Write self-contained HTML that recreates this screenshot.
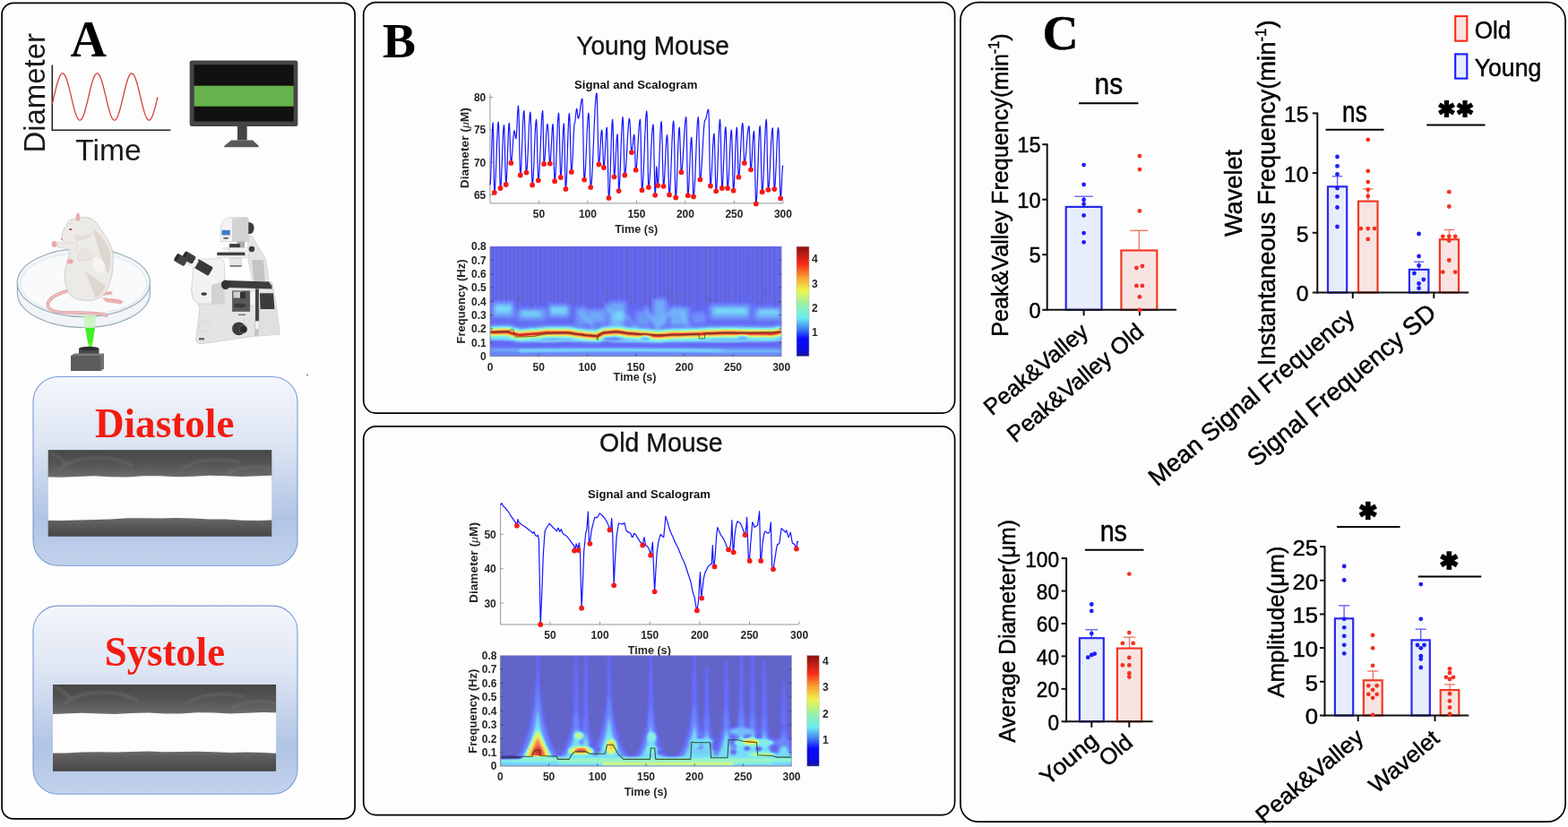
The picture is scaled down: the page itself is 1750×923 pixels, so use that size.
<!DOCTYPE html>
<html><head><meta charset="utf-8"><title>Figure</title>
<style>html,body{margin:0;padding:0;background:#fdfdfd;overflow:hidden}svg{display:block}.pc text{stroke:#000;stroke-width:0.45px}</style>
</head><body>
<svg width="1750" height="923" viewBox="0 0 1750 923" font-family="'Liberation Sans', Arial, Helvetica, sans-serif">
<defs>
<linearGradient id="boxgrad" x1="0" y1="0" x2="0" y2="1">
  <stop offset="0" stop-color="#f4f6fb"/>
  <stop offset="0.35" stop-color="#dde5f3"/>
  <stop offset="0.75" stop-color="#b0c4e4"/>
  <stop offset="1" stop-color="#c3d2ec"/>
</linearGradient>
<linearGradient id="vtop" x1="0" y1="0" x2="0" y2="1">
  <stop offset="0" stop-color="#474747"/>
  <stop offset="0.5" stop-color="#555"/>
  <stop offset="0.85" stop-color="#666"/>
  <stop offset="1" stop-color="#767676"/>
</linearGradient>
<linearGradient id="vbot" x1="0" y1="0" x2="0" y2="1">
  <stop offset="0" stop-color="#707070"/>
  <stop offset="0.3" stop-color="#5e5e5e"/>
  <stop offset="1" stop-color="#474747"/>
</linearGradient>
<filter id="wisp" filterUnits="userSpaceOnUse" x="0" y="400" width="400" height="500"><feGaussianBlur stdDeviation="1.4"/></filter>
<linearGradient id="beam" x1="0" y1="0" x2="0" y2="1">
  <stop offset="0" stop-color="#3cf024"/>
  <stop offset="0.7" stop-color="#44f020"/>
  <stop offset="1" stop-color="#8cf040"/>
</linearGradient>
<filter id="soft" filterUnits="userSpaceOnUse" x="0" y="400" width="400" height="500"><feGaussianBlur stdDeviation="0.7"/></filter>

<linearGradient id="jetg" x1="0" y1="1" x2="0" y2="0">
  <stop offset="0" stop-color="#16168a"/>
  <stop offset="0.05" stop-color="#0a0ae0"/>
  <stop offset="0.16" stop-color="#0a0aff"/>
  <stop offset="0.25" stop-color="#4080f5"/>
  <stop offset="0.35" stop-color="#68ecf2"/>
  <stop offset="0.46" stop-color="#90f0b0"/>
  <stop offset="0.6" stop-color="#eef54a"/>
  <stop offset="0.72" stop-color="#f8a030"/>
  <stop offset="0.84" stop-color="#f82a18"/>
  <stop offset="1" stop-color="#8a1010"/>
</linearGradient>
<filter id="blur1" x="-10%" y="-10%" width="120%" height="120%"><feGaussianBlur stdDeviation="0.8"/></filter>
<filter id="blur2" x="-10%" y="-30%" width="120%" height="160%"><feGaussianBlur stdDeviation="1.8"/></filter>
<filter id="blur3" x="-10%" y="-30%" width="120%" height="160%"><feGaussianBlur stdDeviation="2.5"/></filter>
<filter id="jetmap" x="0" y="0" width="1" height="1" color-interpolation-filters="sRGB"><feComponentTransfer><feFuncR type="table" tableValues="0.078 0.157 0.235 0.314 0.392 0.392 0.392 0.402 0.412 0.422 0.431 0.441 0.451 0.461 0.471 0.500 0.529 0.559 0.588 0.672 0.755 0.838 0.922 0.931 0.941 0.951 0.961 0.956 0.951 0.946 0.941 0.922 0.902 0.882 0.863 0.817 0.771 0.725 0.680 0.634 0.588"/><feFuncG type="table" tableValues="0.078 0.157 0.235 0.314 0.392 0.402 0.412 0.456 0.500 0.544 0.588 0.667 0.745 0.824 0.902 0.917 0.931 0.946 0.961 0.961 0.961 0.961 0.961 0.917 0.873 0.828 0.784 0.706 0.627 0.549 0.471 0.402 0.333 0.265 0.196 0.176 0.157 0.137 0.118 0.098 0.078"/><feFuncB type="table" tableValues="0.510 0.578 0.647 0.716 0.784 0.873 0.961 0.966 0.971 0.975 0.980 0.980 0.980 0.980 0.980 0.931 0.882 0.833 0.784 0.686 0.588 0.490 0.392 0.373 0.353 0.333 0.314 0.324 0.333 0.343 0.353 0.304 0.255 0.206 0.157 0.144 0.131 0.118 0.105 0.092 0.078"/></feComponentTransfer></filter>
<filter id="sb06" filterUnits="userSpaceOnUse" x="400" y="250" width="700" height="650" color-interpolation-filters="sRGB"><feGaussianBlur stdDeviation="0.6"/></filter>
<filter id="sb1" filterUnits="userSpaceOnUse" x="400" y="250" width="700" height="650" color-interpolation-filters="sRGB"><feGaussianBlur stdDeviation="1"/></filter>
<filter id="sb15" filterUnits="userSpaceOnUse" x="400" y="250" width="700" height="650" color-interpolation-filters="sRGB"><feGaussianBlur stdDeviation="1.5"/></filter>
<filter id="sb2" filterUnits="userSpaceOnUse" x="400" y="250" width="700" height="650" color-interpolation-filters="sRGB"><feGaussianBlur stdDeviation="2.2"/></filter>
<filter id="sb3" filterUnits="userSpaceOnUse" x="400" y="250" width="700" height="650" color-interpolation-filters="sRGB"><feGaussianBlur stdDeviation="3"/></filter>
</defs>
<rect x="0" y="0" width="1750" height="923" fill="#fdfdfd"/>
<rect x="2.1" y="3.4" width="394" height="910.5" rx="13" fill="none" stroke="#000" stroke-width="1.7"/>
<text x="78.5" y="62.7" font-size="56" font-weight="bold" font-family="'Liberation Serif', 'Times New Roman', serif">A</text>
<text transform="translate(50.2,103.8) rotate(-90)" x="0" y="0" font-size="33" text-anchor="middle" fill="#1a1a1a" textLength="133.5" lengthAdjust="spacingAndGlyphs">Diameter</text>
<text x="84.2" y="179.3" font-size="32.5" fill="#1a1a1a" textLength="73.5" lengthAdjust="spacingAndGlyphs">Time</text>
<path d="M58.3,72.5 L58.3,145.2 L190.3,145.2" fill="none" stroke="#222" stroke-width="1.6" />
<path d="M58.3,116 L59,113.1 L59.7,110.1 L60.4,107.1 L61.1,104.2 L61.8,101.3 L62.5,98.4 L63.2,95.7 L63.9,93.2 L64.6,90.8 L65.3,88.7 L66,86.8 L66.7,85.2 L67.4,83.9 L68.1,82.9 L68.8,82.2 L69.5,81.8 L70.2,81.8 L70.9,82.2 L71.6,82.9 L72.3,83.9 L73,85.2 L73.7,86.8 L74.4,88.7 L75.1,90.8 L75.8,93.2 L76.5,95.7 L77.2,98.4 L77.9,101.3 L78.6,104.2 L79.3,107.1 L80,110.1 L80.7,113.1 L81.4,116 L82.1,118.8 L82.8,121.4 L83.5,123.9 L84.2,126.1 L84.9,128.2 L85.6,129.9 L86.3,131.4 L87,132.6 L87.7,133.5 L88.4,134 L89.1,134.2 L89.8,134.1 L90.5,133.6 L91.2,132.8 L91.9,131.6 L92.6,130.2 L93.3,128.4 L94,126.5 L94.7,124.2 L95.4,121.8 L96.1,119.1 L96.8,116.4 L97.5,113.5 L98.2,110.6 L98.9,107.6 L99.6,104.6 L100.3,101.7 L101,98.8 L101.7,96.1 L102.4,93.5 L103.1,91.1 L103.8,89 L104.5,87 L105.2,85.4 L105.9,84 L106.6,83 L107.3,82.3 L108,81.9 L108.7,81.8 L109.4,82.1 L110.1,82.7 L110.8,83.7 L111.5,85 L112.2,86.5 L112.9,88.4 L113.6,90.5 L114.3,92.8 L115,95.3 L115.7,98 L116.4,100.8 L117.1,103.8 L117.8,106.7 L118.5,109.7 L119.2,112.7 L119.9,115.6 L120.6,118.4 L121.3,121 L122,123.5 L122.7,125.8 L123.4,127.9 L124.1,129.7 L124.8,131.2 L125.5,132.5 L126.2,133.4 L126.9,133.9 L127.6,134.2 L128.3,134.1 L129,133.7 L129.7,132.9 L130.4,131.8 L131.1,130.4 L131.8,128.7 L132.5,126.8 L133.2,124.5 L133.9,122.1 L134.6,119.5 L135.3,116.8 L136,113.9 L136.7,111 L137.4,108 L138.1,105 L138.8,102.1 L139.5,99.2 L140.2,96.5 L140.9,93.9 L141.6,91.5 L142.3,89.2 L143,87.3 L143.7,85.6 L144.4,84.2 L145.1,83.1 L145.8,82.3 L146.5,81.9 L147.2,81.8 L147.9,82.1 L148.6,82.6 L149.3,83.5 L150,84.8 L150.7,86.3 L151.4,88.1 L152.1,90.2 L152.8,92.5 L153.5,95 L154.2,97.6 L154.9,100.4 L155.6,103.3 L156.3,106.3 L157,109.3 L157.7,112.2 L158.4,115.2 L159.1,118 L159.8,120.7 L160.5,123.2 L161.2,125.5 L161.9,127.6 L162.6,129.5 L163.3,131 L164,132.3 L164.7,133.3 L165.4,133.9 L166.1,134.2 L166.8,134.1 L167.5,133.7 L168.2,133 L168.9,132 L169.6,130.6 L170.3,129 L171,127 L171.7,124.9 L172.4,122.5 L173.1,119.9 L173.8,117.2 L174.5,114.3 L175.2,111.4 L175.9,108.4" fill="none" stroke="#d6403e" stroke-width="1.3" />
<rect x="211.7" y="67.4" width="120.7" height="73.7" rx="2.5" fill="#454545"/>
<rect x="216.6" y="72.2" width="111.1" height="63.4" rx="1" fill="#111"/>
<rect x="216.6" y="95.7" width="111.1" height="23" fill="#66b34d"/>
<rect x="265" y="141" width="10.7" height="15.5" fill="#444"/>
<path d="M258,156.4 L282,156.4 L289,163 Q289,164.3 287.5,164.3 L251,164.3 Q249.4,164.3 250.3,163 Z" fill="#5a5a5a"/>
<path d="M19.4,315.4 L19.4,327 A74,38.5 0 0 0 167.4,327 L167.4,315.4 Z" fill="#f1f5f8" stroke="#98adb8" stroke-width="1.2"/>
<ellipse cx="93.4" cy="315.4" rx="74" ry="38.1" fill="#f3f7f9" stroke="#9fb3be" stroke-width="1.3"/>
<ellipse cx="93.4" cy="316.5" rx="70.5" ry="34.5" fill="#f8fafb" stroke="#dbe5ea" stroke-width="1"/>
<path d="M74,325 C64,328 56,332 53.5,338 C52,344 58,348 70,348.6 C84,349.2 100,348.8 110,350 C114,350.5 117,351.4 119,352" fill="none" stroke="#d99a9a" stroke-width="3.4" stroke-linecap="round"/>
<path d="M74,325 C64,328 56,332 53.5,338 C52,344 58,348 70,348.6 C84,349.2 100,348.8 110,350 C114,350.5 117,351.4 119,352" fill="none" stroke="#efbcbc" stroke-width="2" stroke-linecap="round"/>
<path d="M112,326.5 L124,325 L126,328.5 L114,330 Z" fill="#eab0b0"/>
<path d="M114,332 L132,334 L137.7,336 L135,339.5 L118,337 Z" fill="#eab0b0"/>
<path d="M68.6,267.2 C69,260 72,252 79,245.5 C85,242.5 95,241.5 102,244 C107,247 110,252 114,258 C120,266 124.5,274 125.8,282 C127,295 125.5,307 122,318 C119,327 113,332.5 104.6,335 C97,336 87,335.5 80,331 C74,325 72,315 72.5,305 C73,297 75,291 77.5,285 C77,280 76,275 74,271.5 C72,270 70,269.5 68.6,267.2 Z" fill="#eceae7" stroke="#cdc5bb" stroke-width="0.8"/>
<path d="M104,255 C112,262 120,270 123,282 C124,292 123,300 121,306 C117,300 114,292 112,284 C110,276 106,266 104,255 Z" fill="#dcd6ce"/>
<path d="M95,303 C103,308 112,316 118,318 C116,325 112,330 106,333 C104,325 100,315 95,303 Z" fill="#ddd7cf"/>
<path d="M104,288 C110,286 116,290 117.5,298 C116,304 112,306 107,304 C104,300 103,294 104,288 Z" fill="#f6f5f3"/>
<path d="M84,262 C92,264 100,262 106,258 C100,266 92,270 84,268 Z" fill="#e2ddd6"/>
<path d="M86,271 C80,272 72,271 64,270 L62.5,275 C70,277 79,279 86,279 Z" fill="#eceae7" stroke="#d2cac0" stroke-width="0.5"/>
<path d="M93,276 C99,279 104,283 103,288 C99,290 94,291 88,291 C86,286 88,280 93,276 Z" fill="#e8e5e1" stroke="#d2cac0" stroke-width="0.5"/>
<ellipse cx="60.5" cy="272.5" rx="2.8" ry="3.4" fill="#e9a9a9"/>
<ellipse cx="78.2" cy="291.8" rx="3.4" ry="2.8" fill="#e9a9a9"/>
<path d="M84.7,246 C84,241 85.5,237.5 87,237.4 C89,237.5 89.5,242 88.9,246.5 Z" fill="#e6b0b0"/>
<path d="M75.2,249.5 C75,246.5 76.5,245 78,245.2 C79.3,245.6 79.5,248 79.3,250 Z" fill="#f0efed" stroke="#d0c8c0" stroke-width="0.4"/>
<ellipse cx="78.7" cy="255.9" rx="1.5" ry="1" fill="#b01c1c"/>
<circle cx="69" cy="267" r="1.2" fill="#e49a9a"/>
<path d="M93.2,352 L107.2,352 L106.2,366 L94.2,366 Z" fill="#c4f4bc" opacity="0.85"/>
<path d="M95,366 L106,366 L102.6,388 L99.2,388 Z" fill="url(#beam)"/>
<path d="M88,389 L110.5,389 L110.5,397 L88,397 Z" fill="#474747"/>
<ellipse cx="99.3" cy="389" rx="11.2" ry="2.2" fill="#2e2e2e"/>
<path d="M79,397 L112,397 L116,394.5 L116,411.5 L112,414 L79,414 Z" fill="#5c5c5c"/>
<path d="M112,397 L116,394.5 L116,411.5 L112,414 Z" fill="#707070"/>
<path d="M79,397 L112,397 L116,394.5 L83,394.5 Z" fill="#7a7a7a"/>
<path d="M276.5,264 L281,263 L296.5,289 L300.5,318 L283,318 L277,290 Z" fill="#e4e4e4" stroke="#bdbdbd" stroke-width="0.5"/>
<path d="M281,290 L294,290 L296,318 L284,318 Z" fill="#c4c4c4"/>
<path d="M246.2,256 Q247,244 256,242.6 L275,242.6 Q277.5,243 277.5,247 L277.5,269.5 L246.2,269.5 Z" fill="#f2f2f2" stroke="#bdbdbd" stroke-width="0.5"/>
<path d="M259,244 L275,242.6 Q277.5,243 277.5,247 L277.5,269.5 L259,269.5 Z" fill="#d2d2d2"/>
<rect x="247.5" y="256.9" width="9.3" height="5.5" fill="#3b7cc6"/>
<ellipse cx="252.2" cy="265.8" rx="3.2" ry="1.1" fill="#666"/>
<path d="M277.3,248 Q283.5,248 283.5,254.5 Q283.5,261.2 277.3,261.2 Z" fill="#3c3c3c"/>
<rect x="264.4" y="269.5" width="8.7" height="7" fill="#aaa"/>
<rect x="256.1" y="272.1" width="11.8" height="4.3" fill="#3c3c3c"/>
<rect x="248.8" y="277" width="7" height="1.6" fill="#fff" stroke="#bbb" stroke-width="0.4"/>
<rect x="255.5" y="276.6" width="22" height="3.5" fill="#f2f2f2" stroke="#bdbdbd" stroke-width="0.4"/>
<rect x="242.3" y="281.6" width="31.2" height="3.5" fill="#3c3c3c"/>
<rect x="242.3" y="285.1" width="36" height="2.4" fill="#eee" stroke="#bdbdbd" stroke-width="0.4"/>
<rect x="256.8" y="288.1" width="13" height="9.1" fill="#e8e8e8" stroke="#bdbdbd" stroke-width="0.4"/>
<rect x="256.8" y="296.2" width="13" height="1.3" fill="#555"/>
<circle cx="281" cy="278" r="3.2" fill="#3c3c3c"/>
<path d="M277,278 L281,277 L281,279 Z" fill="#3c3c3c"/>
<path d="M213.8,322.4 L214.8,332.2 L220.6,339 L223,342.9 L218.7,381 L222.6,383.9 L285,375.1 L312.3,373.2 L308.4,341 L303.5,314.6 L250,314 Z" fill="#e4e4e4" stroke="#bdbdbd" stroke-width="0.6"/>
<path d="M215.8,298 Q216,290 224,289 L246,289 Q250.5,290 250.5,296 L250.5,339 L220.6,339 L214.8,332.2 L213.8,322.4 Z" fill="#f2f2f2" stroke="#bdbdbd" stroke-width="0.5"/>
<path d="M236,318 L249.9,314 L249.9,339 L236,339 Z" fill="#d2d2d2"/>
<ellipse cx="227.7" cy="328" rx="3.2" ry="1.8" fill="#3c3c3c"/>
<g transform="translate(227,298.5) rotate(30)"><rect x="-9.5" y="-5.6" width="19" height="11.2" rx="1.5" fill="#3a3a3a"/></g>
<g transform="translate(216,293.2) rotate(30)"><rect x="-4" y="-4.6" width="8" height="9.2" fill="#f6f6f6" stroke="#bbb" stroke-width="0.4"/></g>
<g transform="translate(211.5,287.8) rotate(30)"><rect x="-6" y="-4.8" width="12" height="9.6" rx="2" fill="#3e3e3e"/><ellipse cx="-6" cy="0" rx="1.8" ry="4.8" fill="#2a2a2a"/></g>
<g transform="translate(202.5,290.3) rotate(30)"><rect x="-6" y="-4.8" width="12" height="9.6" rx="2" fill="#444"/><ellipse cx="-6" cy="0" rx="1.8" ry="4.8" fill="#2a2a2a"/></g>
<path d="M251,313 L300,314.6 L303.5,319 L303.5,322.4 L252,321 Z" fill="#3c3c3c"/>
<ellipse cx="251.8" cy="317.8" rx="4.9" ry="5.3" fill="#333"/>
<rect x="259.1" y="324.4" width="20" height="23.4" fill="#5a5a5a"/>
<rect x="260.5" y="325.5" width="9" height="7" fill="#cfcfcf"/>
<ellipse cx="267.5" cy="341" rx="7" ry="2.6" fill="#3a3a3a"/>
<rect x="268" y="326" width="6" height="7" fill="#333"/>
<rect x="279.5" y="326" width="5" height="14" fill="#f4f4f4"/>
<path d="M289.9,327.3 L305,327.3 L306.5,344.9 L290.5,344.9 Z" fill="#3c3c3c"/>
<path d="M290,345 L306.5,345 L312.3,373.2 L288,375 Z" fill="#e0e0e0"/>
<path d="M285,345 L290,345 L288.5,375 L284,375.5 Z" fill="#c4c4c4"/>
<rect x="285" y="322.4" width="3.9" height="36" fill="#444"/>
<rect x="285" y="358.5" width="3.9" height="9" fill="#f6f6f6" stroke="#bbb" stroke-width="0.4"/>
<circle cx="266.5" cy="366.8" r="7.4" fill="#3c3c3c"/>
<circle cx="271.5" cy="367.5" r="4.4" fill="#2a2a2a" stroke="#777" stroke-width="0.6"/>
<circle cx="228.4" cy="364.4" r="5.9" fill="none" stroke="#d0d0d0" stroke-width="0.7"/>
<circle cx="274.7" cy="359" r="3.4" fill="none" stroke="#d0d0d0" stroke-width="0.6"/>
<rect x="222" y="377" width="6" height="2.5" fill="#666"/>
<rect x="266" y="350.5" width="8" height="1.6" fill="#777"/>
<rect x="37" y="420.5" width="295" height="210.8" rx="28" fill="url(#boxgrad)" stroke="#7b9cd6" stroke-width="1.1"/>
<text x="183.7" y="487.8" font-size="45.5" text-anchor="middle" font-weight="bold" font-family="'Liberation Serif', 'Times New Roman', serif" fill="#f41b10" textLength="155.5" lengthAdjust="spacingAndGlyphs">Diastole</text>
<clipPath id="vclipd"><rect x="53.6" y="502.2" width="249.8" height="96.5"/></clipPath>
<g clip-path="url(#vclipd)">
<rect x="53.6" y="502.2" width="249.8" height="96.5" fill="#4c4c4c"/>
<rect x="53.6" y="502.2" width="249.8" height="32" fill="url(#vtop)"/>
<rect x="53.6" y="576.5" width="249.8" height="22.2" fill="url(#vbot)"/>
<g filter="url(#wisp)" opacity="0.55" fill="none" stroke="#8a8a8a" stroke-width="1.6">
<path d="M65.6,524.2 C83.6,508.2 123.6,506.2 148.6,520.2"/>
<path d="M55.6,505.2 C63.6,508.2 68.6,512.2 73.6,518.2"/>
<path d="M203.6,522.2 C223.6,512.2 243.6,510.2 268.6,516.2"/>
<path d="M253.6,528.2 C268.6,520.2 288.6,518.2 303.6,524.2"/>
</g>
<path d="M49.6,532.2 L68,532.8 L86.4,531.9 L104.8,531.3 L123.3,532.3 L141.7,532.4 L160.1,531.3 L178.5,531.3 L196.9,532.2 L215.3,531.8 L233.7,530.8 L252.2,531.3 L270.6,532 L289,531.2 L307.4,530.5 L307.4,580.3 L289,581 L270.6,580.7 L252.2,579.6 L233.7,579.5 L215.3,578.6 L196.9,577.9 L178.5,578.4 L160.1,578.2 L141.7,578.3 L123.3,579.6 L104.8,580 L86.4,580.4 L68,581 L49.6,580.7 Z" fill="#fdfdfd" filter="url(#soft)"/>
</g>
<rect x="37" y="676.1" width="295" height="210.2" rx="28" fill="url(#boxgrad)" stroke="#7b9cd6" stroke-width="1.1"/>
<text x="183.9" y="743.2" font-size="45.5" text-anchor="middle" font-weight="bold" font-family="'Liberation Serif', 'Times New Roman', serif" fill="#f41b10" textLength="134.3" lengthAdjust="spacingAndGlyphs">Systole</text>
<clipPath id="vclips"><rect x="59" y="764" width="249.2" height="96.8"/></clipPath>
<g clip-path="url(#vclips)">
<rect x="59" y="764" width="249.2" height="96.8" fill="#4c4c4c"/>
<rect x="59" y="764" width="249.2" height="34.5" fill="url(#vtop)"/>
<rect x="59" y="836.5" width="249.2" height="24.3" fill="url(#vbot)"/>
<g filter="url(#wisp)" opacity="0.55" fill="none" stroke="#8a8a8a" stroke-width="1.6">
<path d="M71,786 C89,770 129,768 154,782"/>
<path d="M61,767 C69,770 74,774 79,780"/>
<path d="M209,784 C229,774 249,772 274,778"/>
<path d="M259,790 C274,782 294,780 309,786"/>
</g>
<path d="M55,797.2 L73.4,796.5 L91.7,795.7 L110.1,796.4 L128.5,796.9 L146.9,795.9 L165.2,795.5 L183.6,796.4 L202,796.4 L220.3,795.3 L238.7,795.4 L257.1,796.4 L275.5,795.8 L293.8,794.9 L312.2,795.5 L312.2,840.9 L293.8,840 L275.5,839.5 L257.1,839.9 L238.7,839.3 L220.3,838.7 L202,839.1 L183.6,839.2 L165.2,838.6 L146.9,839 L128.5,839.6 L110.1,839.3 L91.7,839.6 L73.4,840.5 L55,840.5 Z" fill="#fdfdfd" filter="url(#soft)"/>
</g>
<rect x="342" y="418" width="2" height="1.2" fill="#c040c0"/>
<rect x="405.7" y="2.6" width="659.9" height="458.5" rx="14" fill="none" stroke="#000" stroke-width="1.7"/>
<rect x="405.7" y="475.9" width="659.9" height="433.7" rx="14" fill="none" stroke="#000" stroke-width="1.7"/>
<text x="427" y="64" font-size="55.5" font-weight="bold" font-family="'Liberation Serif', 'Times New Roman', serif">B</text>
<text x="728.6" y="60.9" font-size="29.5" text-anchor="middle" fill="#111" textLength="170.6" lengthAdjust="spacingAndGlyphs" stroke="#111" stroke-width="0.35">Young Mouse</text>
<text x="737.8" y="504.2" font-size="29.5" text-anchor="middle" fill="#111" textLength="137.5" lengthAdjust="spacingAndGlyphs" stroke="#111" stroke-width="0.35">Old Mouse</text>
<path d="M546.9,104.4 L546.9,226.9 L873.8,226.9" fill="none" stroke="#8a8a8a" stroke-width="0.9" />
<line x1="601.4" y1="226.9" x2="601.4" y2="223.6" stroke="#8a8a8a" stroke-width="0.9" />
<text x="601.4" y="243.3" font-size="12" text-anchor="middle" font-weight="bold" fill="#262626">50</text>
<line x1="655.9" y1="226.9" x2="655.9" y2="223.6" stroke="#8a8a8a" stroke-width="0.9" />
<text x="655.9" y="243.3" font-size="12" text-anchor="middle" font-weight="bold" fill="#262626">100</text>
<line x1="710.4" y1="226.9" x2="710.4" y2="223.6" stroke="#8a8a8a" stroke-width="0.9" />
<text x="710.4" y="243.3" font-size="12" text-anchor="middle" font-weight="bold" fill="#262626">150</text>
<line x1="764.9" y1="226.9" x2="764.9" y2="223.6" stroke="#8a8a8a" stroke-width="0.9" />
<text x="764.9" y="243.3" font-size="12" text-anchor="middle" font-weight="bold" fill="#262626">200</text>
<line x1="819.4" y1="226.9" x2="819.4" y2="223.6" stroke="#8a8a8a" stroke-width="0.9" />
<text x="819.4" y="243.3" font-size="12" text-anchor="middle" font-weight="bold" fill="#262626">250</text>
<line x1="873.9" y1="226.9" x2="873.9" y2="223.6" stroke="#8a8a8a" stroke-width="0.9" />
<text x="873.9" y="243.3" font-size="12" text-anchor="middle" font-weight="bold" fill="#262626">300</text>
<line x1="546.9" y1="217.6" x2="550.2" y2="217.6" stroke="#8a8a8a" stroke-width="0.9" />
<text x="542.3" y="221.9" font-size="12" text-anchor="end" font-weight="bold" fill="#262626">65</text>
<line x1="546.9" y1="181.2" x2="550.2" y2="181.2" stroke="#8a8a8a" stroke-width="0.9" />
<text x="542.3" y="185.6" font-size="12" text-anchor="end" font-weight="bold" fill="#262626">70</text>
<line x1="546.9" y1="144.9" x2="550.2" y2="144.9" stroke="#8a8a8a" stroke-width="0.9" />
<text x="542.3" y="149.2" font-size="12" text-anchor="end" font-weight="bold" fill="#262626">75</text>
<line x1="546.9" y1="108.5" x2="550.2" y2="108.5" stroke="#8a8a8a" stroke-width="0.9" />
<text x="542.3" y="112.8" font-size="12" text-anchor="end" font-weight="bold" fill="#262626">80</text>
<text x="709.7" y="99.3" font-size="13" text-anchor="middle" font-weight="bold" fill="#111" textLength="137.3" lengthAdjust="spacingAndGlyphs">Signal and Scalogram</text>
<text x="710.2" y="260.2" font-size="12.6" text-anchor="middle" font-weight="bold" fill="#262626">Time (s)</text>
<text transform="translate(522.6,165.2) rotate(-90)" x="0" y="0" font-size="13.4" font-weight="bold" text-anchor="middle" fill="#262626" textLength="90" lengthAdjust="spacingAndGlyphs">Diameter (<tspan font-family="'Liberation Serif', 'Times New Roman', serif" font-style="italic" font-weight="normal">&#956;</tspan>M)</text>
<path d="M546.9,206.4 L547.2,204.7 L547.6,199.8 L547.9,192.1 L548.2,182.4 L548.6,171.7 L548.9,160.9 L549.2,151.2 L549.6,143.5 L549.9,138.6 L550.2,136.9 L550.6,148.3 L551,175.9 L551.4,203.5 L551.8,214.9 L552.1,213.8 L552.5,210.4 L552.8,205 L553.2,197.9 L553.5,189.5 L553.9,180.3 L554.2,170.8 L554.5,161.6 L554.9,153.2 L555.2,146.1 L555.6,140.7 L555.9,137.4 L556.3,136.2 L556.6,141.2 L557,154.7 L557.4,173.1 L557.7,191.6 L558.1,205.1 L558.5,210 L558.8,208.8 L559.2,205.3 L559.5,199.7 L559.8,192.4 L560.2,183.9 L560.5,174.8 L560.8,165.7 L561.2,157.2 L561.5,149.9 L561.8,144.3 L562.2,140.8 L562.5,139.6 L562.9,144 L563.2,156.2 L563.6,172.8 L564,189.4 L564.4,201.5 L564.7,206 L565.1,204.3 L565.4,199.4 L565.8,191.8 L566.2,182.3 L566.5,171.7 L566.9,161.1 L567.2,151.5 L567.6,143.9 L567.9,139 L568.3,137.3 L568.6,140.3 L569,148.5 L569.3,159.6 L569.6,170.8 L570,178.9 L570.3,181.9 L570.6,181.2 L571,179.1 L571.3,175.7 L571.7,171.4 L572,166.4 L572.4,161.3 L572.7,156.4 L573.1,152 L573.4,148.7 L573.7,146.5 L574.1,145.8 L574.4,146.7 L574.8,148.9 L575.2,151.6 L575.5,153.9 L575.9,154.7 L576.2,153.3 L576.5,149.3 L576.9,143.4 L577.2,136.3 L577.5,129.3 L577.9,123.3 L578.2,119.4 L578.5,118 L578.9,123.2 L579.3,137.3 L579.7,156.7 L580,176.1 L580.4,190.3 L580.8,195.5 L581.1,194.3 L581.4,190.7 L581.8,185 L582.1,177.5 L582.4,168.8 L582.8,159.5 L583.1,150.2 L583.4,141.5 L583.8,134.1 L584.1,128.3 L584.5,124.8 L584.8,123.5 L585.1,126.2 L585.5,133.6 L585.8,144.9 L586.1,158.1 L586.5,171.3 L586.8,182.5 L587.1,190 L587.5,192.6 L587.8,191.6 L588.1,188.7 L588.5,184.1 L588.8,178 L589.2,170.8 L589.5,162.9 L589.9,154.8 L590.2,146.9 L590.5,139.7 L590.9,133.6 L591.2,129 L591.6,126.1 L591.9,125.1 L592.3,130.5 L592.7,145.4 L593,165.8 L593.4,186.1 L593.8,201 L594.1,206.4 L594.5,205.4 L594.8,202.2 L595.2,197.2 L595.5,190.6 L595.9,182.8 L596.2,174.3 L596.5,165.5 L596.9,156.9 L597.2,149.1 L597.6,142.5 L597.9,137.5 L598.3,134.4 L598.6,133.3 L599,137.9 L599.3,150.3 L599.7,167.3 L600.1,184.3 L600.5,196.8 L600.8,201.3 L601.2,200.3 L601.5,197.5 L601.9,192.8 L602.2,186.7 L602.6,179.3 L602.9,171.1 L603.3,162.4 L603.6,153.8 L604,145.5 L604.3,138.2 L604.7,132 L605,127.4 L605.4,124.5 L605.7,123.5 L606.1,132.2 L606.4,153.3 L606.7,174.3 L607.1,183 L607.4,182.3 L607.7,180 L608.1,176.5 L608.4,171.9 L608.7,166.5 L609.1,160.7 L609.4,155 L609.7,149.6 L610.1,145 L610.4,141.4 L610.7,139.2 L611.1,138.5 L611.4,140.1 L611.8,144.9 L612.1,152.1 L612.4,160.5 L612.8,169 L613.1,176.1 L613.4,180.9 L613.8,182.6 L614.1,181.5 L614.4,178.4 L614.8,173.5 L615.1,167.3 L615.4,160.5 L615.8,153.7 L616.1,147.6 L616.4,142.7 L616.8,139.5 L617.1,138.5 L617.4,142.7 L617.8,154.4 L618.1,170.3 L618.4,186.3 L618.8,197.9 L619.1,202.2 L619.5,201.1 L619.8,197.8 L620.1,192.6 L620.5,185.8 L620.8,177.7 L621.2,168.8 L621.5,159.6 L621.9,150.7 L622.2,142.6 L622.5,135.8 L622.9,130.6 L623.2,127.3 L623.6,126.2 L623.9,131 L624.3,144.1 L624.7,162.1 L625.1,180 L625.4,193.2 L625.8,198 L626.1,196.5 L626.5,192.2 L626.9,185.6 L627.2,177.3 L627.6,168 L627.9,158.7 L628.3,150.4 L628.6,143.7 L629,139.5 L629.4,138 L629.7,142.9 L630,156.2 L630.4,174.5 L630.7,192.7 L631,206 L631.4,210.9 L631.7,209.5 L632,205.2 L632.4,198.6 L632.7,189.8 L633,179.7 L633.4,168.8 L633.7,157.9 L634,147.7 L634.4,139 L634.7,132.3 L635,128.1 L635.4,126.6 L635.7,129.9 L636.1,138.9 L636.4,152 L636.8,166.6 L637.1,179.7 L637.5,188.7 L637.8,191.9 L638.2,190.6 L638.5,186.7 L638.9,180.7 L639.3,173.1 L639.6,164.6 L640,156.2 L640.3,148.6 L640.7,142.6 L641,138.7 L641.4,137.3 L641.8,136.3 L642.1,133.3 L642.5,129.3 L642.9,125.3 L643.3,122.4 L643.6,121.3 L644,122.3 L644.3,125.1 L644.7,128.4 L645,131.2 L645.4,132.2 L645.7,131.9 L646.1,131 L646.4,129.4 L646.8,127.5 L647.1,125.1 L647.5,122.5 L647.8,119.9 L648.1,117.3 L648.5,114.9 L648.8,112.9 L649.2,111.4 L649.5,110.5 L649.9,110.2 L650.2,116.2 L650.6,132.8 L651,155.4 L651.3,178 L651.7,194.6 L652.1,200.6 L652.4,199.7 L652.8,197 L653.1,192.5 L653.5,186.6 L653.8,179.6 L654.2,171.7 L654.5,163.4 L654.9,155.1 L655.2,147.3 L655.6,140.2 L655.9,134.3 L656.3,129.9 L656.6,127.1 L657,126.2 L657.4,131.8 L657.7,146.9 L658.1,167.7 L658.5,188.4 L658.9,203.6 L659.2,209.1 L659.6,208.5 L659.9,206.5 L660.2,203.4 L660.6,199.1 L660.9,193.7 L661.2,187.4 L661.6,180.4 L661.9,172.8 L662.2,164.7 L662.6,156.5 L662.9,148.3 L663.2,140.3 L663.6,132.6 L663.9,125.6 L664.2,119.3 L664.6,114 L664.9,109.6 L665.2,106.5 L665.6,104.6 L665.9,103.9 L666.3,107.9 L666.6,118.9 L667,134.8 L667.3,152.5 L667.7,168.5 L668,179.5 L668.4,183.5 L668.7,182.5 L669,179.8 L669.4,175.6 L669.7,170.2 L670,164.3 L670.4,158.4 L670.7,153 L671,148.8 L671.4,146.1 L671.7,145.1 L672.1,148 L672.4,155.6 L672.8,166.1 L673.2,176.6 L673.6,184.2 L673.9,187 L674.3,185.9 L674.6,182.8 L674.9,177.8 L675.3,171.6 L675.6,164.6 L675.9,157.7 L676.3,151.5 L676.6,146.5 L676.9,143.3 L677.3,142.2 L677.6,147.5 L678,161.9 L678.4,181.6 L678.8,201.3 L679.1,215.6 L679.5,220.9 L679.9,219.4 L680.2,215.1 L680.6,208.1 L680.9,199 L681.3,188.5 L681.6,177.1 L682,165.8 L682.3,155.2 L682.7,146.2 L683,139.2 L683.4,134.8 L683.7,133.3 L684.1,139.4 L684.5,155.4 L684.8,175.2 L685.2,191.2 L685.5,197.3 L685.9,196.1 L686.2,192.8 L686.6,187.5 L686.9,180.9 L687.3,173.6 L687.7,166.2 L688,159.6 L688.4,154.4 L688.7,151 L689.1,149.8 L689.5,159.1 L689.9,181.5 L690.3,203.8 L690.6,213.1 L691,211.9 L691.3,208.4 L691.7,202.8 L692,195.3 L692.4,186.5 L692.7,176.9 L693,166.9 L693.4,157.3 L693.7,148.5 L694.1,141 L694.4,135.4 L694.8,131.9 L695.1,130.7 L695.5,135 L695.8,146.9 L696.2,163.1 L696.6,179.3 L697,191.2 L697.3,195.5 L697.7,194.8 L698,192.8 L698.4,189.5 L698.7,185.1 L699,179.7 L699.4,173.7 L699.7,167.3 L700.1,160.7 L700.4,154.2 L700.8,148.2 L701.1,142.9 L701.4,138.5 L701.8,135.2 L702.1,133.1 L702.5,132.4 L702.8,134.3 L703.2,139.5 L703.5,147.1 L703.9,155.5 L704.2,163 L704.6,168.2 L704.9,170.1 L705.3,169.4 L705.6,167.2 L706,164 L706.4,160.2 L706.7,156.4 L707.1,153.2 L707.4,151 L707.8,150.3 L708.2,154 L708.5,163.9 L708.9,176.1 L709.2,186 L709.6,189.7 L709.9,189 L710.3,186.9 L710.6,183.6 L711,179.1 L711.3,173.8 L711.7,167.8 L712,161.5 L712.4,155.3 L712.7,149.3 L713.1,143.9 L713.4,139.5 L713.8,136.1 L714.1,134 L714.5,133.3 L714.8,138.6 L715.2,153.1 L715.5,172.8 L715.8,192.5 L716.2,206.9 L716.5,212.2 L716.8,211.4 L717.2,208.9 L717.5,204.8 L717.8,199.3 L718.2,192.6 L718.5,185 L718.8,176.7 L719.2,168.1 L719.5,159.5 L719.8,151.2 L720.2,143.6 L720.5,136.9 L720.8,131.4 L721.2,127.3 L721.5,124.8 L721.8,124 L722.2,129.7 L722.5,145.3 L722.9,166.5 L723.2,187.8 L723.5,203.4 L723.9,209.1 L724.2,208.3 L724.5,206.1 L724.9,202.4 L725.2,197.5 L725.6,191.6 L725.9,184.9 L726.2,177.8 L726.6,170.5 L726.9,163.3 L727.3,156.6 L727.6,150.7 L728,145.8 L728.3,142.2 L728.6,139.9 L729,139.1 L729.4,144.4 L729.7,158.8 L730.1,178.5 L730.5,198.1 L730.8,212.5 L731.2,217.8 L731.6,213.1 L732,201.9 L732.4,190.6 L732.8,185.9 L733.1,189 L733.4,196.5 L733.8,204 L734.1,207.1 L734.4,205.9 L734.8,202.3 L735.1,196.6 L735.4,189.2 L735.8,180.6 L736.1,171.3 L736.4,162.1 L736.8,153.4 L737.1,146 L737.4,140.4 L737.8,136.8 L738.1,135.6 L738.5,139.1 L738.8,149.2 L739.2,163.6 L739.5,179.7 L739.9,194.2 L740.2,204.2 L740.6,207.8 L740.9,206.8 L741.2,203.9 L741.6,199.4 L741.9,193.5 L742.2,186.6 L742.6,179.2 L742.9,171.9 L743.2,165 L743.6,159.1 L743.9,154.5 L744.2,151.7 L744.6,150.7 L744.9,154 L745.3,163.3 L745.6,176.6 L746,191.4 L746.3,204.8 L746.7,214.1 L747,217.4 L747.4,216.3 L747.7,213.3 L748,208.4 L748.4,201.9 L748.7,194.1 L749,185.4 L749.4,176.2 L749.7,167.1 L750,158.4 L750.4,150.6 L750.7,144.1 L751,139.2 L751.4,136.1 L751.7,135.1 L752.1,139.3 L752.4,151.2 L752.8,168.3 L753.1,187.3 L753.5,204.4 L753.8,216.2 L754.2,220.5 L754.5,219.1 L754.8,215.2 L755.2,209 L755.5,200.9 L755.8,191.5 L756.2,181.4 L756.5,171.2 L756.8,161.8 L757.2,153.7 L757.5,147.5 L757.8,143.6 L758.2,142.2 L758.5,145.6 L758.9,154.7 L759.3,167.2 L759.7,179.7 L760,188.8 L760.4,192.2 L760.7,191.6 L761.1,189.8 L761.4,187 L761.7,183.2 L762.1,178.5 L762.4,173.2 L762.7,167.4 L763.1,161.4 L763.4,155.4 L763.7,149.6 L764.1,144.3 L764.4,139.7 L764.8,135.8 L765.1,133 L765.4,131.2 L765.8,130.7 L766.1,136.5 L766.4,152.6 L766.8,174.5 L767.1,196.3 L767.4,212.4 L767.8,218.2 L768.1,217.1 L768.4,213.9 L768.8,208.7 L769.1,202 L769.4,194.2 L769.8,185.8 L770.1,177.4 L770.4,169.6 L770.8,162.9 L771.1,157.7 L771.4,154.5 L771.8,153.4 L772.1,157.8 L772.5,169.9 L772.9,186.4 L773.3,202.9 L773.6,214.9 L774,219.4 L774.3,218.5 L774.7,216 L775,211.9 L775.3,206.4 L775.7,199.6 L776,192 L776.3,183.7 L776.7,175 L777,166.4 L777.3,158 L777.7,150.4 L778,143.6 L778.3,138.1 L778.7,134 L779,131.5 L779.3,130.7 L779.7,135.3 L780,148.1 L780.4,165.5 L780.7,183 L781,195.7 L781.4,200.4 L781.7,199.8 L782.1,197.9 L782.4,194.8 L782.7,190.7 L783.1,185.7 L783.4,179.9 L783.8,173.7 L784.1,167.2 L784.5,160.7 L784.8,154.5 L785.2,148.8 L785.5,143.7 L785.9,139.6 L786.2,136.5 L786.6,134.6 L786.9,134 L787.3,133.8 L787.6,133.1 L788,132 L788.3,130.5 L788.6,128.9 L789,127.3 L789.3,125.6 L789.7,124.2 L790,123.1 L790.4,122.4 L790.7,122.2 L791.1,127.9 L791.5,143.5 L791.8,164.9 L792.2,186.2 L792.6,201.8 L792.9,207.5 L793.3,206.6 L793.6,203.6 L793.9,199 L794.3,192.9 L794.6,185.9 L794.9,178.4 L795.3,170.8 L795.6,163.8 L796,157.7 L796.3,153.1 L796.6,150.2 L797,149.2 L797.3,153.5 L797.7,165.2 L798.1,181.2 L798.4,197.3 L798.8,209 L799.2,213.3 L799.5,212.2 L799.9,208.8 L800.2,203.3 L800.6,196.1 L800.9,187.5 L801.2,178.2 L801.6,168.5 L801.9,159.2 L802.3,150.6 L802.6,143.4 L803,137.9 L803.3,134.5 L803.6,133.3 L804,138.5 L804.4,152.5 L804.8,171.7 L805.1,190.8 L805.5,204.9 L805.9,210 L806.2,208.8 L806.5,205.4 L806.9,200 L807.2,192.9 L807.5,184.7 L807.9,175.9 L808.2,167.1 L808.5,158.9 L808.9,151.8 L809.2,146.4 L809.5,143 L809.9,141.8 L810.3,146.4 L810.6,158.9 L811,175.9 L811.4,192.9 L811.7,205.4 L812.1,210 L812.5,208.9 L812.8,205.7 L813.2,200.5 L813.5,193.8 L813.9,186 L814.2,177.6 L814.6,169.2 L814.9,161.4 L815.3,154.6 L815.6,149.5 L816,146.2 L816.3,145.1 L816.7,149.7 L817.1,162 L817.5,178.9 L817.8,195.8 L818.2,208.1 L818.6,212.7 L818.9,211.2 L819.3,207.1 L819.6,200.5 L820,192.1 L820.3,182.5 L820.6,172.4 L821,162.8 L821.3,154.4 L821.7,147.8 L822,143.7 L822.4,142.2 L822.7,146 L823,156.1 L823.4,170 L823.7,183.9 L824,194 L824.4,197.7 L824.7,196.9 L825.1,194.3 L825.4,190.1 L825.7,184.7 L826.1,178.3 L826.4,171.2 L826.8,163.9 L827.1,156.8 L827.5,150.4 L827.8,144.9 L828.1,140.8 L828.5,138.2 L828.8,137.3 L829.2,140.3 L829.5,148.5 L829.8,159.6 L830.2,170.8 L830.5,178.9 L830.8,181.9 L831.2,181.5 L831.5,180.1 L831.9,178 L832.2,175.1 L832.5,171.6 L832.9,167.7 L833.2,163.5 L833.6,159.1 L833.9,154.9 L834.2,151 L834.6,147.5 L834.9,144.6 L835.3,142.5 L835.6,141.1 L836,140.7 L836.3,143.9 L836.6,152.8 L837,165 L837.3,177.1 L837.6,186 L838,189.3 L838.3,188.2 L838.7,185.2 L839,180.4 L839.4,174.4 L839.7,167.8 L840.1,161.1 L840.5,155.1 L840.8,150.4 L841.2,147.3 L841.5,146.3 L841.9,151.7 L842.3,166.5 L842.6,186.8 L843,207.1 L843.4,221.9 L843.8,227.4 L844.1,226.1 L844.4,222.4 L844.8,216.5 L845.1,208.7 L845.5,199.4 L845.8,189.3 L846.2,178.8 L846.5,168.7 L846.8,159.4 L847.2,151.6 L847.5,145.7 L847.9,141.9 L848.2,140.7 L848.6,144.3 L848.9,154.5 L849.3,169.3 L849.6,185.6 L850,200.4 L850.3,210.6 L850.7,214.2 L851,213.2 L851.3,210.2 L851.7,205.4 L852,199 L852.3,191.3 L852.7,182.8 L853,173.8 L853.3,164.8 L853.7,156.2 L854,148.6 L854.3,142.2 L854.7,137.3 L855,134.3 L855.3,133.3 L855.7,138.6 L856,152.9 L856.3,172.6 L856.7,192.2 L857,206.5 L857.4,211.8 L857.7,210.9 L858.1,208.4 L858.4,204.3 L858.8,198.8 L859.1,192.3 L859.5,185 L859.8,177.3 L860.2,169.7 L860.5,162.4 L860.9,155.9 L861.2,150.4 L861.6,146.3 L861.9,143.8 L862.3,142.9 L862.6,147.5 L862.9,160 L863.3,177 L863.6,194.1 L863.9,206.5 L864.3,211.1 L864.6,210.1 L864.9,207.2 L865.3,202.5 L865.6,196.3 L866,189 L866.3,180.9 L866.7,172.7 L867,164.6 L867.3,157.3 L867.7,151.1 L868,146.4 L868.4,143.5 L868.7,142.5 L869.1,146.4 L869.4,157.3 L869.8,173.1 L870.1,190.7 L870.5,206.5 L870.8,217.5 L871.2,221.4 L871.5,220 L871.8,216 L872.2,210 L872.5,203 L872.8,195.9 L873.2,190 L873.5,186 L873.8,184.6" fill="none" stroke="#1414ff" stroke-width="1.2" stroke-linejoin="round"/>
<circle cx="551.8" cy="214.9" r="2.9" fill="#f41a1a"/>
<circle cx="558.5" cy="210" r="2.9" fill="#f41a1a"/>
<circle cx="564.7" cy="206" r="2.9" fill="#f41a1a"/>
<circle cx="570.3" cy="181.9" r="2.9" fill="#f41a1a"/>
<circle cx="580.8" cy="195.5" r="2.9" fill="#f41a1a"/>
<circle cx="587.5" cy="192.6" r="2.9" fill="#f41a1a"/>
<circle cx="594.1" cy="206.4" r="2.9" fill="#f41a1a"/>
<circle cx="600.8" cy="201.3" r="2.9" fill="#f41a1a"/>
<circle cx="607.1" cy="183" r="2.9" fill="#f41a1a"/>
<circle cx="613.8" cy="182.6" r="2.9" fill="#f41a1a"/>
<circle cx="619.1" cy="202.2" r="2.9" fill="#f41a1a"/>
<circle cx="625.8" cy="198" r="2.9" fill="#f41a1a"/>
<circle cx="631.4" cy="210.9" r="2.9" fill="#f41a1a"/>
<circle cx="637.8" cy="191.9" r="2.9" fill="#f41a1a"/>
<circle cx="652.1" cy="200.6" r="2.9" fill="#f41a1a"/>
<circle cx="659.2" cy="209.1" r="2.9" fill="#f41a1a"/>
<circle cx="668.4" cy="183.5" r="2.9" fill="#f41a1a"/>
<circle cx="673.9" cy="187" r="2.9" fill="#f41a1a"/>
<circle cx="679.5" cy="220.9" r="2.9" fill="#f41a1a"/>
<circle cx="685.5" cy="197.3" r="2.9" fill="#f41a1a"/>
<circle cx="690.6" cy="213.1" r="2.9" fill="#f41a1a"/>
<circle cx="697.3" cy="195.5" r="2.9" fill="#f41a1a"/>
<circle cx="704.9" cy="170.1" r="2.9" fill="#f41a1a"/>
<circle cx="709.6" cy="189.7" r="2.9" fill="#f41a1a"/>
<circle cx="716.5" cy="212.2" r="2.9" fill="#f41a1a"/>
<circle cx="723.9" cy="209.1" r="2.9" fill="#f41a1a"/>
<circle cx="731.2" cy="217.8" r="2.9" fill="#f41a1a"/>
<circle cx="734.1" cy="207.1" r="2.9" fill="#f41a1a"/>
<circle cx="740.6" cy="207.8" r="2.9" fill="#f41a1a"/>
<circle cx="747" cy="217.4" r="2.9" fill="#f41a1a"/>
<circle cx="754.2" cy="220.5" r="2.9" fill="#f41a1a"/>
<circle cx="760.4" cy="192.2" r="2.9" fill="#f41a1a"/>
<circle cx="767.8" cy="218.2" r="2.9" fill="#f41a1a"/>
<circle cx="774" cy="219.4" r="2.9" fill="#f41a1a"/>
<circle cx="781.4" cy="200.4" r="2.9" fill="#f41a1a"/>
<circle cx="792.9" cy="207.5" r="2.9" fill="#f41a1a"/>
<circle cx="799.2" cy="213.3" r="2.9" fill="#f41a1a"/>
<circle cx="805.9" cy="210" r="2.9" fill="#f41a1a"/>
<circle cx="812.1" cy="210" r="2.9" fill="#f41a1a"/>
<circle cx="818.6" cy="212.7" r="2.9" fill="#f41a1a"/>
<circle cx="824.4" cy="197.7" r="2.9" fill="#f41a1a"/>
<circle cx="830.8" cy="181.9" r="2.9" fill="#f41a1a"/>
<circle cx="838" cy="189.3" r="2.9" fill="#f41a1a"/>
<circle cx="843.8" cy="227.4" r="2.9" fill="#f41a1a"/>
<circle cx="850.7" cy="214.2" r="2.9" fill="#f41a1a"/>
<circle cx="857.4" cy="211.8" r="2.9" fill="#f41a1a"/>
<circle cx="864.3" cy="211.1" r="2.9" fill="#f41a1a"/>
<circle cx="871.2" cy="221.4" r="2.9" fill="#f41a1a"/>
<svg x="547" y="275.1" width="325.2" height="122.6" viewBox="547 275.1 325.2 122.6" overflow="hidden">
<g filter="url(#jetmap)">
<rect x="542" y="270.1" width="335.2" height="132.6" fill="rgb(38,38,38)"/>
<g filter="url(#sb06)">
<rect x="549.2" y="273.1" width="1.5" height="72.7" fill="rgb(28,28,28)"/>
<rect x="548.7" y="332.3" width="2.5" height="4" fill="rgb(26,26,26)"/>
<rect x="553.9" y="273.1" width="1.9" height="77.6" fill="rgb(30,30,30)"/>
<rect x="553.4" y="339.5" width="2.9" height="4" fill="rgb(26,26,26)"/>
<rect x="558.1" y="273.1" width="2.3" height="70.8" fill="rgb(30,30,30)"/>
<rect x="557.6" y="330.9" width="3.3" height="4" fill="rgb(26,26,26)"/>
<rect x="564.2" y="273.1" width="1.8" height="68" fill="rgb(27,27,27)"/>
<rect x="563.7" y="327.4" width="2.8" height="4" fill="rgb(26,26,26)"/>
<rect x="568.8" y="273.1" width="1.4" height="76" fill="rgb(29,29,29)"/>
<rect x="573.2" y="273.1" width="2.1" height="67.9" fill="rgb(29,29,29)"/>
<rect x="572.7" y="339.6" width="3.1" height="4" fill="rgb(26,26,26)"/>
<rect x="577.2" y="273.1" width="2.1" height="74.8" fill="rgb(29,29,29)"/>
<rect x="576.7" y="331.6" width="3.1" height="4" fill="rgb(26,26,26)"/>
<rect x="582.2" y="273.1" width="2.3" height="73.1" fill="rgb(28,28,28)"/>
<rect x="581.7" y="331.7" width="3.3" height="4" fill="rgb(26,26,26)"/>
<rect x="587.3" y="273.1" width="2.2" height="62.5" fill="rgb(29,29,29)"/>
<rect x="591.5" y="273.1" width="2.2" height="70.9" fill="rgb(30,30,30)"/>
<rect x="591" y="339.9" width="3.2" height="4" fill="rgb(26,26,26)"/>
<rect x="597" y="273.1" width="2" height="64.6" fill="rgb(27,27,27)"/>
<rect x="596.5" y="329.9" width="3" height="4" fill="rgb(26,26,26)"/>
<rect x="602.3" y="273.1" width="1.8" height="68" fill="rgb(27,27,27)"/>
<rect x="607.4" y="273.1" width="1.4" height="66.4" fill="rgb(28,28,28)"/>
<rect x="613.6" y="273.1" width="1.6" height="63.5" fill="rgb(29,29,29)"/>
<rect x="617.6" y="273.1" width="1.5" height="70.1" fill="rgb(30,30,30)"/>
<rect x="617.1" y="328.8" width="2.5" height="4" fill="rgb(26,26,26)"/>
<rect x="621.8" y="273.1" width="1.8" height="74.1" fill="rgb(27,27,27)"/>
<rect x="621.3" y="333.6" width="2.8" height="4" fill="rgb(26,26,26)"/>
<rect x="627" y="273.1" width="2.3" height="62.4" fill="rgb(27,27,27)"/>
<rect x="626.5" y="334.2" width="3.3" height="4" fill="rgb(26,26,26)"/>
<rect x="631.8" y="273.1" width="2.4" height="62.4" fill="rgb(30,30,30)"/>
<rect x="631.3" y="337" width="3.4" height="4" fill="rgb(26,26,26)"/>
<rect x="636.2" y="273.1" width="2" height="69.7" fill="rgb(30,30,30)"/>
<rect x="635.7" y="334.1" width="3" height="4" fill="rgb(26,26,26)"/>
<rect x="641" y="273.1" width="2.4" height="68.2" fill="rgb(28,28,28)"/>
<rect x="640.5" y="331.1" width="3.4" height="4" fill="rgb(26,26,26)"/>
<rect x="646.5" y="273.1" width="2.4" height="77.6" fill="rgb(28,28,28)"/>
<rect x="652.3" y="273.1" width="1.8" height="71.4" fill="rgb(30,30,30)"/>
<rect x="656.4" y="273.1" width="1.6" height="77.4" fill="rgb(30,30,30)"/>
<rect x="655.9" y="339.7" width="2.6" height="4" fill="rgb(26,26,26)"/>
<rect x="660.3" y="273.1" width="1.4" height="75.8" fill="rgb(29,29,29)"/>
<rect x="659.8" y="327.1" width="2.4" height="4" fill="rgb(26,26,26)"/>
<rect x="665.7" y="273.1" width="1.6" height="75.9" fill="rgb(29,29,29)"/>
<rect x="665.2" y="338.6" width="2.6" height="4" fill="rgb(26,26,26)"/>
<rect x="671.6" y="273.1" width="1.9" height="60.4" fill="rgb(29,29,29)"/>
<rect x="671.1" y="339" width="2.9" height="4" fill="rgb(26,26,26)"/>
<rect x="676.3" y="273.1" width="2.3" height="73.8" fill="rgb(30,30,30)"/>
<rect x="675.8" y="326" width="3.3" height="4" fill="rgb(26,26,26)"/>
<rect x="681.5" y="273.1" width="2" height="75.9" fill="rgb(30,30,30)"/>
<rect x="681" y="325.5" width="3" height="4" fill="rgb(26,26,26)"/>
<rect x="687.4" y="273.1" width="1.6" height="65.8" fill="rgb(29,29,29)"/>
<rect x="686.9" y="328.7" width="2.6" height="4" fill="rgb(26,26,26)"/>
<rect x="692.6" y="273.1" width="1.7" height="64.3" fill="rgb(30,30,30)"/>
<rect x="698.9" y="273.1" width="2.3" height="62.9" fill="rgb(27,27,27)"/>
<rect x="703.3" y="273.1" width="1.7" height="69.1" fill="rgb(30,30,30)"/>
<rect x="702.8" y="336.2" width="2.7" height="4" fill="rgb(26,26,26)"/>
<rect x="707.8" y="273.1" width="2.4" height="65.9" fill="rgb(29,29,29)"/>
<rect x="714.1" y="273.1" width="1.7" height="61.1" fill="rgb(30,30,30)"/>
<rect x="713.6" y="337.5" width="2.7" height="4" fill="rgb(26,26,26)"/>
<rect x="718.5" y="273.1" width="2.4" height="67.1" fill="rgb(27,27,27)"/>
<rect x="718" y="330.5" width="3.4" height="4" fill="rgb(26,26,26)"/>
<rect x="724.3" y="273.1" width="2.1" height="77.1" fill="rgb(27,27,27)"/>
<rect x="730" y="273.1" width="1.5" height="69.8" fill="rgb(28,28,28)"/>
<rect x="729.5" y="328.3" width="2.5" height="4" fill="rgb(26,26,26)"/>
<rect x="736.2" y="273.1" width="1.8" height="71.3" fill="rgb(27,27,27)"/>
<rect x="740.5" y="273.1" width="1.5" height="76.3" fill="rgb(27,27,27)"/>
<rect x="744.7" y="273.1" width="2.5" height="63.4" fill="rgb(28,28,28)"/>
<rect x="744.2" y="332.1" width="3.5" height="4" fill="rgb(26,26,26)"/>
<rect x="749" y="273.1" width="2.5" height="78.4" fill="rgb(28,28,28)"/>
<rect x="748.5" y="326.2" width="3.5" height="4" fill="rgb(26,26,26)"/>
<rect x="753.9" y="273.1" width="2.3" height="62.6" fill="rgb(30,30,30)"/>
<rect x="753.4" y="336" width="3.3" height="4" fill="rgb(26,26,26)"/>
<rect x="758.4" y="273.1" width="1.6" height="67.8" fill="rgb(29,29,29)"/>
<rect x="757.9" y="326.6" width="2.6" height="4" fill="rgb(26,26,26)"/>
<rect x="763.1" y="273.1" width="2" height="70.2" fill="rgb(27,27,27)"/>
<rect x="762.6" y="326.5" width="3" height="4" fill="rgb(26,26,26)"/>
<rect x="768.2" y="273.1" width="1.9" height="68.8" fill="rgb(31,31,31)"/>
<rect x="767.7" y="337.7" width="2.9" height="4" fill="rgb(26,26,26)"/>
<rect x="772.1" y="273.1" width="1.5" height="63.9" fill="rgb(29,29,29)"/>
<rect x="777.4" y="273.1" width="1.9" height="72.6" fill="rgb(28,28,28)"/>
<rect x="781.5" y="273.1" width="1.6" height="68.3" fill="rgb(30,30,30)"/>
<rect x="786.6" y="273.1" width="2.2" height="68.3" fill="rgb(27,27,27)"/>
<rect x="786.1" y="331.1" width="3.2" height="4" fill="rgb(26,26,26)"/>
<rect x="791.7" y="273.1" width="2.1" height="69.2" fill="rgb(29,29,29)"/>
<rect x="791.2" y="333.2" width="3.1" height="4" fill="rgb(26,26,26)"/>
<rect x="797.9" y="273.1" width="2.4" height="65.8" fill="rgb(27,27,27)"/>
<rect x="797.4" y="332" width="3.4" height="4" fill="rgb(26,26,26)"/>
<rect x="804" y="273.1" width="1.5" height="63.2" fill="rgb(30,30,30)"/>
<rect x="803.5" y="339.4" width="2.5" height="4" fill="rgb(26,26,26)"/>
<rect x="808.5" y="273.1" width="2.1" height="77.3" fill="rgb(28,28,28)"/>
<rect x="812.8" y="273.1" width="2.1" height="65.5" fill="rgb(30,30,30)"/>
<rect x="819" y="273.1" width="2.4" height="74.6" fill="rgb(29,29,29)"/>
<rect x="818.5" y="325.4" width="3.4" height="4" fill="rgb(26,26,26)"/>
<rect x="824.9" y="273.1" width="1.8" height="75.7" fill="rgb(29,29,29)"/>
<rect x="824.4" y="337.5" width="2.8" height="4" fill="rgb(26,26,26)"/>
<rect x="829.5" y="273.1" width="1.3" height="65.3" fill="rgb(28,28,28)"/>
<rect x="829" y="340.3" width="2.3" height="4" fill="rgb(26,26,26)"/>
<rect x="834.2" y="273.1" width="1.9" height="67.2" fill="rgb(30,30,30)"/>
<rect x="840" y="273.1" width="1.4" height="60.8" fill="rgb(30,30,30)"/>
<rect x="839.5" y="328.6" width="2.4" height="4" fill="rgb(26,26,26)"/>
<rect x="844.6" y="273.1" width="1.8" height="76.2" fill="rgb(27,27,27)"/>
<rect x="849.1" y="273.1" width="2.4" height="75.9" fill="rgb(28,28,28)"/>
<rect x="853.2" y="273.1" width="2.1" height="77.6" fill="rgb(29,29,29)"/>
<rect x="852.7" y="326.1" width="3.1" height="4" fill="rgb(26,26,26)"/>
<rect x="858.6" y="273.1" width="1.4" height="63.9" fill="rgb(27,27,27)"/>
<rect x="858.1" y="327.3" width="2.4" height="4" fill="rgb(26,26,26)"/>
<rect x="863.6" y="273.1" width="2" height="72.4" fill="rgb(27,27,27)"/>
<rect x="863.1" y="338.5" width="3" height="4" fill="rgb(26,26,26)"/>
<rect x="868.8" y="273.1" width="1.4" height="74.2" fill="rgb(30,30,30)"/>
<rect x="868.3" y="337.4" width="2.4" height="4" fill="rgb(26,26,26)"/>
</g>
<g filter="url(#sb2)">
<rect x="549.2" y="336.4" width="24.9" height="18.4" rx="2" fill="rgb(69,69,69)"/>
<rect x="552.4" y="341" width="18.4" height="7.7" rx="2" fill="rgb(87,87,87)"/>
<rect x="577.4" y="344.1" width="32.5" height="13.8" rx="2" fill="rgb(66,66,66)"/>
<rect x="581.7" y="347.1" width="21.7" height="6.1" rx="2" fill="rgb(84,84,84)"/>
<rect x="612" y="339.5" width="23.8" height="15.3" rx="2" fill="rgb(69,69,69)"/>
<rect x="614.2" y="342.5" width="19.5" height="7.7" rx="2" fill="rgb(84,84,84)"/>
<rect x="642.4" y="342.5" width="13" height="21.5" rx="2" fill="rgb(64,64,64)"/>
<rect x="655.4" y="345.6" width="21.7" height="15.3" rx="2" fill="rgb(69,69,69)"/>
<rect x="679.2" y="336.4" width="19.5" height="27.6" rx="2" fill="rgb(69,69,69)"/>
<rect x="685.8" y="347.1" width="10.8" height="10.7" rx="2" fill="rgb(84,84,84)"/>
<rect x="709.6" y="347.1" width="16.3" height="16.9" rx="2" fill="rgb(64,64,64)"/>
<rect x="729.1" y="333.3" width="15.2" height="30.6" rx="2" fill="rgb(71,71,71)"/>
<rect x="747.5" y="342.5" width="21.7" height="21.5" rx="2" fill="rgb(71,71,71)"/>
<rect x="772.5" y="348.7" width="15.2" height="12.3" rx="2" fill="rgb(61,61,61)"/>
<rect x="792" y="339.5" width="45.5" height="16.9" rx="2" fill="rgb(69,69,69)"/>
<rect x="796.3" y="344.1" width="37.9" height="6.1" rx="2" fill="rgb(87,87,87)"/>
<rect x="841.8" y="342.5" width="30.4" height="15.3" rx="2" fill="rgb(69,69,69)"/>
<rect x="846.2" y="345.6" width="23.8" height="6.1" rx="2" fill="rgb(84,84,84)"/>
<path d="M646.7,347.1 L664.1,367.1" stroke="rgb(79,79,79)" stroke-width="3.2" fill="none"/>
<path d="M674.9,339.5 L690.1,365.5" stroke="rgb(79,79,79)" stroke-width="3.2" fill="none"/>
<path d="M698.8,351.7 L709.6,367.1" stroke="rgb(79,79,79)" stroke-width="3.2" fill="none"/>
<path d="M720.4,342.5 L733.4,367.1" stroke="rgb(79,79,79)" stroke-width="3.2" fill="none"/>
<path d="M733.4,367.1 L753,342.5" stroke="rgb(79,79,79)" stroke-width="3.2" fill="none"/>
<path d="M758.4,344.1 L769.2,365.5" stroke="rgb(79,79,79)" stroke-width="3.2" fill="none"/>
</g>
<g filter="url(#sb15)">
<rect x="547" y="387.7" width="325.2" height="5.7" fill="rgb(56,56,56)"/>
<path d="M547,390.8 L612,391.1 L677.1,390.8 L763.8,391.1 L872.2,391.6" stroke="rgb(76,76,76)" stroke-width="3" fill="none"/>
<path d="M579.5,391.6 C644.6,390.3 731.3,390.3 807.2,391.6" stroke="rgb(94,94,94)" stroke-width="3.5" fill="none"/>
<path d="M796.3,392.3 L872.2,392.3" stroke="rgb(82,82,82)" stroke-width="2.5" fill="none"/>
<rect x="547" y="394.6" width="325.2" height="3.1" fill="rgb(71,71,71)"/>
<rect x="547" y="395.9" width="325.2" height="1.5" fill="rgb(51,51,51)"/>
</g>
<path d="M547,377.8 L549.2,377.8 L551.3,377.9 L553.5,377.9 L555.7,378 L557.8,378.2 L560,378.3 L562.2,378.4 L564.3,378.5 L566.5,378.5 L568.7,378.5 L570.8,378.6 L573,378.7 L575.2,378.9 L577.4,379.1 L579.5,379.3 L581.7,379.5 L583.9,379.8 L586,379.9 L588.2,380 L590.4,380.1 L592.5,380.1 L594.7,380.1 L596.9,380.2 L599,380.3 L601.2,380.5 L603.4,380.6 L605.5,380.7 L607.7,380.8 L609.9,380.8 L612,380.8 L614.2,380.8 L616.4,380.8 L618.5,380.7 L620.7,380.6 L622.9,380.5 L625,380.3 L627.2,380.2 L629.4,380.1 L631.6,380.1 L633.7,380.1 L635.9,380.1 L638.1,380 L640.2,379.9 L642.4,379.8 L644.6,379.7 L646.7,379.6 L648.9,379.5 L651.1,379.4 L653.2,379.3 L655.4,379.3 L657.6,379.3 L659.7,379.3 L661.9,379.3 L664.1,379.3 L666.2,379.3 L668.4,379.3 L670.6,379.3 L672.7,379.3 L674.9,379.3 L677.1,379.4 L679.2,379.7 L681.4,380.1 L683.6,380.5 L685.8,380.7 L687.9,380.8 L690.1,380.8 L692.3,380.8 L694.4,380.8 L696.6,380.8 L698.8,380.8 L700.9,380.8 L703.1,380.8 L705.3,380.8 L707.4,380.8 L709.6,380.8 L711.8,380.8 L713.9,380.8 L716.1,380.8 L718.3,380.8 L720.4,380.8 L722.6,380.8 L724.8,380.8 L726.9,380.8 L729.1,380.7 L731.3,380.7 L733.4,380.6 L735.6,380.5 L737.8,380.4 L740,380.3 L742.1,380.3 L744.3,380.2 L746.5,380.1 L748.6,380.1 L750.8,380.1 L753,380.1 L755.2,380.1 L757.5,380.1 L759.7,380.1 L762,380.1 L764.3,380.1 L766.5,380.1 L768.8,380.1 L771,380.1 L773.3,380.1 L775.5,380.1 L777.8,380.1 L780.1,380.1 L782.3,380.1 L784.6,380.1 L786.8,380.2 L789.1,380.3 L791.4,380.4 L793.6,380.5 L795.9,380.6 L798.1,380.7 L800.4,380.7 L802.6,380.8 L804.9,380.8 L807.2,380.8 L809.3,380.8 L811.5,380.8 L813.7,380.8 L815.8,380.7 L818,380.7 L820.2,380.6 L822.3,380.5 L824.5,380.4 L826.7,380.3 L828.8,380.3 L831,380.2 L833.2,380.1 L835.3,380.1 L837.5,380.1 L839.7,380.1 L841.8,380.1 L844,380 L846.2,380 L848.4,379.9 L850.5,379.9 L852.7,379.8 L854.9,379.7 L857,379.7 L859.2,379.6 L861.4,379.5 L863.5,379.4 L865.7,379.4 L867.9,379.3 L870,379.3 L872.2,379.3" stroke="rgb(87,87,87)" stroke-width="3" fill="none" filter="url(#sb1)"/>
<path d="M547,370.9 L549.2,370.9 L551.3,370.8 L553.5,370.8 L555.7,370.7 L557.8,370.6 L560,370.5 L562.2,370.5 L564.3,370.4 L566.5,370.4 L568.7,370.9 L570.8,371.9 L573,372.4 L575.2,372.8 L577.4,373.6 L579.5,373.9 L581.8,373.9 L584.2,373.7 L586.5,373.5 L588.8,373.2 L591.1,373 L593.5,372.8 L595.8,372.7 L598.1,372.7 L600.4,372.5 L602.7,372.2 L605.1,371.9 L607.4,371.6 L609.7,371.4 L612,371.3 L614.2,371.3 L616.4,371.3 L618.5,371.3 L620.7,371.3 L622.9,371.3 L625,371.3 L627.2,371.3 L629.4,371.3 L631.6,371.3 L633.7,371.3 L635.9,371.5 L638.1,371.8 L640.2,372.3 L642.4,372.7 L644.6,373.1 L646.7,373.2 L648.9,373.4 L651.1,373.8 L653.2,374.2 L655.4,374.4 L657.6,374.5 L659.7,374.6 L661.9,374.8 L664.1,375 L666.2,375 L668.4,374.5 L670.6,373.2 L672.7,371.9 L674.9,371.3 L677.1,371.3 L679.2,371.1 L681.4,370.9 L683.6,370.7 L685.8,370.5 L687.9,370.4 L690.2,370.5 L692.6,370.8 L694.9,371.2 L697.2,371.6 L699.5,372 L701.9,372.3 L704.2,372.4 L706.5,372.5 L708.8,372.6 L711.1,372.8 L713.5,373.1 L715.8,373.3 L718.1,373.4 L720.4,373.5 L722.6,373.6 L724.8,373.8 L726.9,374.1 L729.1,374.4 L731.3,374.6 L733.4,374.7 L735.6,374.7 L737.8,374.6 L740,374.4 L742.1,374.2 L744.3,374 L746.5,373.8 L748.6,373.6 L750.8,373.5 L753,373.5 L755.2,373.5 L757.5,373.4 L759.7,373.4 L762,373.3 L764.3,373.3 L766.5,373.2 L768.8,373.1 L771,373 L773.3,373 L775.5,372.9 L777.8,372.9 L780.1,372.9 L782.2,372.8 L784.4,372.6 L786.6,372.4 L788.7,372.2 L790.9,372.1 L793.1,372.1 L795.2,372.1 L797.4,372 L799.6,371.9 L801.7,371.9 L803.9,371.8 L806.1,371.7 L808.2,371.7 L810.4,371.7 L812.6,371.6 L814.8,371.7 L817.1,371.7 L819.4,371.7 L821.6,371.8 L823.9,371.8 L826.1,371.9 L828.4,371.9 L830.6,372 L832.9,372 L835.2,372.1 L837.4,372.1 L839.7,372.1 L841.8,372.1 L844,372.1 L846.2,372.1 L848.4,372.2 L850.5,372.2 L852.7,372.2 L854.9,372.2 L857,372.2 L859.2,372.3 L861.4,372.3 L863.5,372.1 L865.7,371.6 L867.9,371.1 L870,370.6 L872.2,370.4" stroke="rgb(92,92,92)" stroke-width="15" fill="none" stroke-linejoin="round" filter="url(#sb2)"/>
<path d="M547,370.9 L549.2,370.9 L551.3,370.8 L553.5,370.8 L555.7,370.7 L557.8,370.6 L560,370.5 L562.2,370.5 L564.3,370.4 L566.5,370.4 L568.7,370.9 L570.8,371.9 L573,372.4 L575.2,372.8 L577.4,373.6 L579.5,373.9 L581.8,373.9 L584.2,373.7 L586.5,373.5 L588.8,373.2 L591.1,373 L593.5,372.8 L595.8,372.7 L598.1,372.7 L600.4,372.5 L602.7,372.2 L605.1,371.9 L607.4,371.6 L609.7,371.4 L612,371.3 L614.2,371.3 L616.4,371.3 L618.5,371.3 L620.7,371.3 L622.9,371.3 L625,371.3 L627.2,371.3 L629.4,371.3 L631.6,371.3 L633.7,371.3 L635.9,371.5 L638.1,371.8 L640.2,372.3 L642.4,372.7 L644.6,373.1 L646.7,373.2 L648.9,373.4 L651.1,373.8 L653.2,374.2 L655.4,374.4 L657.6,374.5 L659.7,374.6 L661.9,374.8 L664.1,375 L666.2,375 L668.4,374.5 L670.6,373.2 L672.7,371.9 L674.9,371.3 L677.1,371.3 L679.2,371.1 L681.4,370.9 L683.6,370.7 L685.8,370.5 L687.9,370.4 L690.2,370.5 L692.6,370.8 L694.9,371.2 L697.2,371.6 L699.5,372 L701.9,372.3 L704.2,372.4 L706.5,372.5 L708.8,372.6 L711.1,372.8 L713.5,373.1 L715.8,373.3 L718.1,373.4 L720.4,373.5 L722.6,373.6 L724.8,373.8 L726.9,374.1 L729.1,374.4 L731.3,374.6 L733.4,374.7 L735.6,374.7 L737.8,374.6 L740,374.4 L742.1,374.2 L744.3,374 L746.5,373.8 L748.6,373.6 L750.8,373.5 L753,373.5 L755.2,373.5 L757.5,373.4 L759.7,373.4 L762,373.3 L764.3,373.3 L766.5,373.2 L768.8,373.1 L771,373 L773.3,373 L775.5,372.9 L777.8,372.9 L780.1,372.9 L782.2,372.8 L784.4,372.6 L786.6,372.4 L788.7,372.2 L790.9,372.1 L793.1,372.1 L795.2,372.1 L797.4,372 L799.6,371.9 L801.7,371.9 L803.9,371.8 L806.1,371.7 L808.2,371.7 L810.4,371.7 L812.6,371.6 L814.8,371.7 L817.1,371.7 L819.4,371.7 L821.6,371.8 L823.9,371.8 L826.1,371.9 L828.4,371.9 L830.6,372 L832.9,372 L835.2,372.1 L837.4,372.1 L839.7,372.1 L841.8,372.1 L844,372.1 L846.2,372.1 L848.4,372.2 L850.5,372.2 L852.7,372.2 L854.9,372.2 L857,372.2 L859.2,372.3 L861.4,372.3 L863.5,372.1 L865.7,371.6 L867.9,371.1 L870,370.6 L872.2,370.4" stroke="rgb(143,143,143)" stroke-width="8.5" fill="none" stroke-linejoin="round" filter="url(#sb15)"/>
<path d="M547,370.9 L549.2,370.9 L551.3,370.8 L553.5,370.8 L555.7,370.7 L557.8,370.6 L560,370.5 L562.2,370.5 L564.3,370.4 L566.5,370.4 L568.7,370.9 L570.8,371.9 L573,372.4 L575.2,372.8 L577.4,373.6 L579.5,373.9 L581.8,373.9 L584.2,373.7 L586.5,373.5 L588.8,373.2 L591.1,373 L593.5,372.8 L595.8,372.7 L598.1,372.7 L600.4,372.5 L602.7,372.2 L605.1,371.9 L607.4,371.6 L609.7,371.4 L612,371.3 L614.2,371.3 L616.4,371.3 L618.5,371.3 L620.7,371.3 L622.9,371.3 L625,371.3 L627.2,371.3 L629.4,371.3 L631.6,371.3 L633.7,371.3 L635.9,371.5 L638.1,371.8 L640.2,372.3 L642.4,372.7 L644.6,373.1 L646.7,373.2 L648.9,373.4 L651.1,373.8 L653.2,374.2 L655.4,374.4 L657.6,374.5 L659.7,374.6 L661.9,374.8 L664.1,375 L666.2,375 L668.4,374.5 L670.6,373.2 L672.7,371.9 L674.9,371.3 L677.1,371.3 L679.2,371.1 L681.4,370.9 L683.6,370.7 L685.8,370.5 L687.9,370.4 L690.2,370.5 L692.6,370.8 L694.9,371.2 L697.2,371.6 L699.5,372 L701.9,372.3 L704.2,372.4 L706.5,372.5 L708.8,372.6 L711.1,372.8 L713.5,373.1 L715.8,373.3 L718.1,373.4 L720.4,373.5 L722.6,373.6 L724.8,373.8 L726.9,374.1 L729.1,374.4 L731.3,374.6 L733.4,374.7 L735.6,374.7 L737.8,374.6 L740,374.4 L742.1,374.2 L744.3,374 L746.5,373.8 L748.6,373.6 L750.8,373.5 L753,373.5 L755.2,373.5 L757.5,373.4 L759.7,373.4 L762,373.3 L764.3,373.3 L766.5,373.2 L768.8,373.1 L771,373 L773.3,373 L775.5,372.9 L777.8,372.9 L780.1,372.9 L782.2,372.8 L784.4,372.6 L786.6,372.4 L788.7,372.2 L790.9,372.1 L793.1,372.1 L795.2,372.1 L797.4,372 L799.6,371.9 L801.7,371.9 L803.9,371.8 L806.1,371.7 L808.2,371.7 L810.4,371.7 L812.6,371.6 L814.8,371.7 L817.1,371.7 L819.4,371.7 L821.6,371.8 L823.9,371.8 L826.1,371.9 L828.4,371.9 L830.6,372 L832.9,372 L835.2,372.1 L837.4,372.1 L839.7,372.1 L841.8,372.1 L844,372.1 L846.2,372.1 L848.4,372.2 L850.5,372.2 L852.7,372.2 L854.9,372.2 L857,372.2 L859.2,372.3 L861.4,372.3 L863.5,372.1 L865.7,371.6 L867.9,371.1 L870,370.6 L872.2,370.4" stroke="rgb(199,199,199)" stroke-width="4.8" fill="none" stroke-linejoin="round" filter="url(#sb1)"/>
<path d="M547,370.9 L549.2,370.9 L551.3,370.8 L553.5,370.8 L555.7,370.7 L557.8,370.6 L560,370.5 L562.2,370.5 L564.3,370.4 L566.5,370.4 L568.7,370.9 L570.8,371.9 L573,372.4 L575.2,372.8 L577.4,373.6 L579.5,373.9 L581.8,373.9 L584.2,373.7 L586.5,373.5 L588.8,373.2 L591.1,373 L593.5,372.8 L595.8,372.7 L598.1,372.7 L600.4,372.5 L602.7,372.2 L605.1,371.9 L607.4,371.6 L609.7,371.4 L612,371.3 L614.2,371.3 L616.4,371.3 L618.5,371.3 L620.7,371.3 L622.9,371.3 L625,371.3 L627.2,371.3 L629.4,371.3 L631.6,371.3 L633.7,371.3 L635.9,371.5 L638.1,371.8 L640.2,372.3 L642.4,372.7 L644.6,373.1 L646.7,373.2 L648.9,373.4 L651.1,373.8 L653.2,374.2 L655.4,374.4 L657.6,374.5 L659.7,374.6 L661.9,374.8 L664.1,375 L666.2,375 L668.4,374.5 L670.6,373.2 L672.7,371.9 L674.9,371.3 L677.1,371.3 L679.2,371.1 L681.4,370.9 L683.6,370.7 L685.8,370.5 L687.9,370.4 L690.2,370.5 L692.6,370.8 L694.9,371.2 L697.2,371.6 L699.5,372 L701.9,372.3 L704.2,372.4 L706.5,372.5 L708.8,372.6 L711.1,372.8 L713.5,373.1 L715.8,373.3 L718.1,373.4 L720.4,373.5 L722.6,373.6 L724.8,373.8 L726.9,374.1 L729.1,374.4 L731.3,374.6 L733.4,374.7 L735.6,374.7 L737.8,374.6 L740,374.4 L742.1,374.2 L744.3,374 L746.5,373.8 L748.6,373.6 L750.8,373.5 L753,373.5 L755.2,373.5 L757.5,373.4 L759.7,373.4 L762,373.3 L764.3,373.3 L766.5,373.2 L768.8,373.1 L771,373 L773.3,373 L775.5,372.9 L777.8,372.9 L780.1,372.9 L782.2,372.8 L784.4,372.6 L786.6,372.4 L788.7,372.2 L790.9,372.1 L793.1,372.1 L795.2,372.1 L797.4,372 L799.6,371.9 L801.7,371.9 L803.9,371.8 L806.1,371.7 L808.2,371.7 L810.4,371.7 L812.6,371.6 L814.8,371.7 L817.1,371.7 L819.4,371.7 L821.6,371.8 L823.9,371.8 L826.1,371.9 L828.4,371.9 L830.6,372 L832.9,372 L835.2,372.1 L837.4,372.1 L839.7,372.1 L841.8,372.1 L844,372.1 L846.2,372.1 L848.4,372.2 L850.5,372.2 L852.7,372.2 L854.9,372.2 L857,372.2 L859.2,372.3 L861.4,372.3 L863.5,372.1 L865.7,371.6 L867.9,371.1 L870,370.6 L872.2,370.4" stroke="rgb(224,224,224)" stroke-width="2.2" fill="none" stroke-linejoin="round" filter="url(#sb06)"/>
<g filter="url(#sb15)">
<ellipse cx="720.4" cy="377" rx="6" ry="1.6" fill="rgb(51,51,51)"/>
<ellipse cx="682.5" cy="378.1" rx="10" ry="1.6" fill="rgb(51,51,51)"/>
<ellipse cx="828.8" cy="376.2" rx="6" ry="1.5" fill="rgb(51,51,51)"/>
</g>
</g>
<path d="M547,370.1 L567.6,370.1 L569.8,367.8 L573,367.8 L574.1,373.9 L575.2,376.2 L595.8,375.5 L609.9,372.4 L633.7,371.3 L650,373.9 L666.2,375 L666.2,379.3 L667.3,379.3 L668.4,372.4 L677.1,370.4 L687.9,370.1 L707.4,372.4 L736.7,373.9 L763.8,373.5 L780.1,373.2 L780.1,377.8 L786.6,377.8 L786.6,372.4 L801.7,371.6 L872.2,370.4" fill="none" stroke="#1f4a12" stroke-width="0.9" opacity="0.75" stroke-linejoin="round"/>
</svg>
<path d="M547,275.1 L547,397.7 L872.2,397.7" fill="none" stroke="#8a8a8a" stroke-width="0.9" />
<text x="547" y="413.8" font-size="12" text-anchor="middle" font-weight="bold" fill="#262626">0</text>
<text x="601.2" y="413.8" font-size="12" text-anchor="middle" font-weight="bold" fill="#262626">50</text>
<line x1="601.2" y1="397.7" x2="601.2" y2="394.7" stroke="#555" stroke-width="0.8" />
<text x="655.4" y="413.8" font-size="12" text-anchor="middle" font-weight="bold" fill="#262626">100</text>
<line x1="655.4" y1="397.7" x2="655.4" y2="394.7" stroke="#555" stroke-width="0.8" />
<text x="709.6" y="413.8" font-size="12" text-anchor="middle" font-weight="bold" fill="#262626">150</text>
<line x1="709.6" y1="397.7" x2="709.6" y2="394.7" stroke="#555" stroke-width="0.8" />
<text x="763.8" y="413.8" font-size="12" text-anchor="middle" font-weight="bold" fill="#262626">200</text>
<line x1="763.8" y1="397.7" x2="763.8" y2="394.7" stroke="#555" stroke-width="0.8" />
<text x="818" y="413.8" font-size="12" text-anchor="middle" font-weight="bold" fill="#262626">250</text>
<line x1="818" y1="397.7" x2="818" y2="394.7" stroke="#555" stroke-width="0.8" />
<text x="872.2" y="413.8" font-size="12" text-anchor="middle" font-weight="bold" fill="#262626">300</text>
<text x="542.8" y="402" font-size="12" text-anchor="end" font-weight="bold" fill="#262626">0</text>
<text x="542.8" y="386.7" font-size="12" text-anchor="end" font-weight="bold" fill="#262626">0.1</text>
<text x="542.8" y="371.4" font-size="12" text-anchor="end" font-weight="bold" fill="#262626">0.2</text>
<text x="542.8" y="356" font-size="12" text-anchor="end" font-weight="bold" fill="#262626">0.3</text>
<text x="542.8" y="340.7" font-size="12" text-anchor="end" font-weight="bold" fill="#262626">0.4</text>
<text x="542.8" y="325.4" font-size="12" text-anchor="end" font-weight="bold" fill="#262626">0.5</text>
<text x="542.8" y="310.1" font-size="12" text-anchor="end" font-weight="bold" fill="#262626">0.6</text>
<text x="542.8" y="294.7" font-size="12" text-anchor="end" font-weight="bold" fill="#262626">0.7</text>
<text x="542.8" y="279.4" font-size="12" text-anchor="end" font-weight="bold" fill="#262626">0.8</text>
<line x1="869.2" y1="382.4" x2="872.2" y2="382.4" stroke="#3a3a7a" stroke-width="0.8" />
<line x1="547" y1="382.4" x2="550" y2="382.4" stroke="#3a3a7a" stroke-width="0.8" />
<line x1="869.2" y1="367.1" x2="872.2" y2="367.1" stroke="#3a3a7a" stroke-width="0.8" />
<line x1="547" y1="367.1" x2="550" y2="367.1" stroke="#3a3a7a" stroke-width="0.8" />
<line x1="869.2" y1="351.7" x2="872.2" y2="351.7" stroke="#3a3a7a" stroke-width="0.8" />
<line x1="547" y1="351.7" x2="550" y2="351.7" stroke="#3a3a7a" stroke-width="0.8" />
<line x1="869.2" y1="336.4" x2="872.2" y2="336.4" stroke="#3a3a7a" stroke-width="0.8" />
<line x1="547" y1="336.4" x2="550" y2="336.4" stroke="#3a3a7a" stroke-width="0.8" />
<line x1="869.2" y1="321.1" x2="872.2" y2="321.1" stroke="#3a3a7a" stroke-width="0.8" />
<line x1="547" y1="321.1" x2="550" y2="321.1" stroke="#3a3a7a" stroke-width="0.8" />
<line x1="869.2" y1="305.8" x2="872.2" y2="305.8" stroke="#3a3a7a" stroke-width="0.8" />
<line x1="547" y1="305.8" x2="550" y2="305.8" stroke="#3a3a7a" stroke-width="0.8" />
<line x1="869.2" y1="290.4" x2="872.2" y2="290.4" stroke="#3a3a7a" stroke-width="0.8" />
<line x1="547" y1="290.4" x2="550" y2="290.4" stroke="#3a3a7a" stroke-width="0.8" />
<line x1="872.2" y1="275.1" x2="872.2" y2="397.7" stroke="#9a9ab8" stroke-width="0.6" />
<text x="708.5" y="425.3" font-size="12.6" text-anchor="middle" font-weight="bold" fill="#262626">Time (s)</text>
<text transform="translate(519.4,336.4) rotate(-90)" x="0" y="0" font-size="13.2" text-anchor="middle" font-weight="bold" fill="#262626" textLength="94" lengthAdjust="spacingAndGlyphs">Frequency (Hz)</text>
<rect x="889" y="275.1" width="14" height="122.6" fill="url(#jetg)" stroke="#bbb" stroke-width="0.5"/>
<text x="906" y="293.3" font-size="12" font-weight="bold" fill="#262626">4</text>
<text x="906" y="320.9" font-size="12" font-weight="bold" fill="#262626">3</text>
<text x="906" y="348" font-size="12" font-weight="bold" fill="#262626">2</text>
<text x="906" y="375.3" font-size="12" font-weight="bold" fill="#262626">1</text>
<path d="M558.6,562 L558.6,697 L891.1,697" fill="none" stroke="#8a8a8a" stroke-width="0.9" />
<line x1="614" y1="697" x2="614" y2="693.7" stroke="#8a8a8a" stroke-width="0.9" />
<text x="614" y="713.3" font-size="12" text-anchor="middle" font-weight="bold" fill="#262626">50</text>
<line x1="669.6" y1="697" x2="669.6" y2="693.7" stroke="#8a8a8a" stroke-width="0.9" />
<text x="669.6" y="713.3" font-size="12" text-anchor="middle" font-weight="bold" fill="#262626">100</text>
<line x1="725.2" y1="697" x2="725.2" y2="693.7" stroke="#8a8a8a" stroke-width="0.9" />
<text x="725.2" y="713.3" font-size="12" text-anchor="middle" font-weight="bold" fill="#262626">150</text>
<line x1="780.9" y1="697" x2="780.9" y2="693.7" stroke="#8a8a8a" stroke-width="0.9" />
<text x="780.9" y="713.3" font-size="12" text-anchor="middle" font-weight="bold" fill="#262626">200</text>
<line x1="836.5" y1="697" x2="836.5" y2="693.7" stroke="#8a8a8a" stroke-width="0.9" />
<text x="836.5" y="713.3" font-size="12" text-anchor="middle" font-weight="bold" fill="#262626">250</text>
<line x1="892.1" y1="697" x2="892.1" y2="693.7" stroke="#8a8a8a" stroke-width="0.9" />
<text x="892.1" y="713.3" font-size="12" text-anchor="middle" font-weight="bold" fill="#262626">300</text>
<line x1="558.6" y1="673.2" x2="561.9" y2="673.2" stroke="#8a8a8a" stroke-width="0.9" />
<text x="553.8" y="677.5" font-size="12" text-anchor="end" font-weight="bold" fill="#262626">30</text>
<line x1="558.6" y1="634.8" x2="561.9" y2="634.8" stroke="#8a8a8a" stroke-width="0.9" />
<text x="553.8" y="639" font-size="12" text-anchor="end" font-weight="bold" fill="#262626">40</text>
<line x1="558.6" y1="596.3" x2="561.9" y2="596.3" stroke="#8a8a8a" stroke-width="0.9" />
<text x="553.8" y="600.6" font-size="12" text-anchor="end" font-weight="bold" fill="#262626">50</text>
<text x="724.5" y="556.2" font-size="13" text-anchor="middle" font-weight="bold" fill="#111" textLength="137" lengthAdjust="spacingAndGlyphs">Signal and Scalogram</text>
<text x="724.8" y="730.2" font-size="12.6" text-anchor="middle" font-weight="bold" fill="#262626">Time (s)</text>
<text transform="translate(533.4,628) rotate(-90)" x="0" y="0" font-size="13.4" font-weight="bold" text-anchor="middle" fill="#262626" textLength="90" lengthAdjust="spacingAndGlyphs">Diameter (<tspan font-family="'Liberation Serif', 'Times New Roman', serif" font-style="italic" font-weight="normal">&#956;</tspan>M)</text>
<path d="M558.4,563.5 L560.1,561.7 L561.7,565.1 L563.5,566.2 L565.3,568.9 L567.1,570.7 L569.1,574 L571.3,577.3 L573.5,580.7 L575.7,583.6 L576.9,585.8 L578,579.6 L579.1,582.9 L580.9,584.5 L583.5,586.3 L586.9,588.5 L590.2,591.2 L592.9,593.4 L594.7,595.2 L596,593.4 L597.4,597.4 L599.1,598.5 L600.3,597.4 L601.4,601.9 L602.3,646.4 L603.2,697 L604.5,668.7 L606.3,619.7 L608.1,592.9 L610.3,588.5 L613,584.5 L614.7,585.8 L617,588.5 L619.2,590.7 L621.4,592.9 L623,589.2 L624.8,593.4 L626.3,590.7 L628.1,595.2 L630.3,597 L632.6,598.5 L634.8,601.4 L637,604.1 L638.8,606.8 L640.4,608.5 L641.9,614.1 L643.1,606.8 L644.4,610.8 L644.8,614.1 L646.4,605.9 L647.5,615.2 L648.2,646.4 L649.1,678.7 L650.4,650.9 L651.7,615.2 L653.7,595.2 L654.9,590.7 L656.4,571.1 L657.5,606.3 L658.4,606.8 L660,592.9 L661.5,586.3 L663.8,577.3 L666,577.8 L667.6,576.2 L669.3,572.9 L671.6,574.7 L674.9,578.5 L677.6,582.9 L679.4,587.4 L680.5,591.4 L681.6,590.7 L682.7,578.5 L683.8,597.4 L684.5,628.6 L685.2,653.1 L686.5,624.1 L688.3,597.4 L690.5,584 L692.8,584.5 L695,585.1 L696.3,583.6 L697.2,584 L698.5,590.7 L699.4,592.9 L701.7,594.1 L703.9,595.2 L705.2,599.6 L706.1,599.6 L707.9,595.2 L709.7,597 L711.2,599.6 L712.8,601.9 L714.6,605.2 L716.2,606.3 L717.3,608.5 L718.4,601.9 L719,599.6 L719.9,605.2 L720.6,608.5 L722.2,609.7 L724,611.9 L725.1,615.2 L726.2,619.7 L727.3,613 L728.4,605.2 L729.3,628.6 L730.6,660.3 L732,635.3 L733.3,615.2 L735.1,604.1 L736.2,599.6 L737.3,596.3 L739.1,598.5 L740.7,599.6 L741.8,588.5 L742.9,576.2 L744,579.6 L745.1,582.9 L746.7,588.5 L748.5,594.1 L750.7,598.5 L752.9,604.1 L755.2,608.5 L757.4,613 L759.6,618.6 L761.8,624.1 L764.1,628.6 L766.3,635.3 L768.5,642 L770.8,648.7 L773,659.8 L774.3,664.3 L775.2,666.5 L776.5,675.4 L777.4,679.9 L778.6,677.6 L779.7,668.7 L780.6,650.9 L781.5,638.6 L782.1,655.3 L782.8,667.6 L783.7,659.8 L785.2,646.4 L786.4,640.9 L787.5,637.5 L788.6,636.4 L789.7,633.1 L791.3,631.3 L791.9,630.8 L793,629.7 L794.2,629.7 L795.3,608.5 L796.2,628.6 L796.8,631.9 L797.9,624.1 L799.1,606.3 L799.7,597.4 L800.8,588.5 L802,591.8 L803.1,594.1 L804.6,597.4 L806.4,599.6 L808.2,603 L809.8,606.3 L810.9,609.7 L812,611.9 L813.1,613.4 L814.4,611.9 L815.3,608.5 L816.2,597.4 L816.9,580.7 L817.6,601.9 L818.2,616.3 L819.1,610.8 L819.8,599.6 L820.9,590.7 L822,585.1 L823.1,581.8 L824.7,582.9 L826.5,584 L828.3,588.5 L829.8,592.5 L830.9,595.2 L831.8,596.3 L832.7,590.7 L833.6,577.3 L834.5,601.9 L835.4,625.3 L836.5,625.3 L837.6,608.5 L838.7,595.2 L839.8,582.9 L841,585.1 L842.1,588.5 L843.6,587.4 L845.4,586.3 L846.5,579.6 L847.6,570.7 L848.3,601.9 L848.8,625.9 L849.6,625.3 L851,606.3 L852.1,599.6 L853.2,594.1 L854.3,592.9 L855.9,594.7 L857.7,595.2 L859,593.4 L860.3,582.9 L861,608.5 L861.7,633.1 L863,635.3 L864.4,626.4 L865.5,619.7 L866.6,611.9 L867.7,607.4 L868.8,607.4 L869.9,606.3 L871,597.4 L872.2,589.6 L873.7,591.2 L875.5,592.9 L876.6,594.1 L877.7,591.8 L878.8,595.6 L880,599.6 L881.1,597.4 L882.2,594.1 L883.3,600.1 L884.4,606.3 L885.5,606.8 L886.6,607.4 L887.8,609.7 L888.9,611.9 L889.5,607.4 L890,604.1 L891.1,605.2" fill="none" stroke="#1414ff" stroke-width="1.2" stroke-linejoin="round"/>
<circle cx="576.9" cy="586.7" r="2.9" fill="#f41a1a"/>
<circle cx="603.2" cy="697" r="2.9" fill="#f41a1a"/>
<circle cx="641" cy="614.6" r="2.9" fill="#f41a1a"/>
<circle cx="645.5" cy="614.1" r="2.9" fill="#f41a1a"/>
<circle cx="649.1" cy="678.7" r="2.9" fill="#f41a1a"/>
<circle cx="658.4" cy="606.8" r="2.9" fill="#f41a1a"/>
<circle cx="680.5" cy="591.4" r="2.9" fill="#f41a1a"/>
<circle cx="685.2" cy="653.3" r="2.9" fill="#f41a1a"/>
<circle cx="717.3" cy="608.5" r="2.9" fill="#f41a1a"/>
<circle cx="726.2" cy="619.7" r="2.9" fill="#f41a1a"/>
<circle cx="730.6" cy="660.3" r="2.9" fill="#f41a1a"/>
<circle cx="777.9" cy="681.4" r="2.9" fill="#f41a1a"/>
<circle cx="783.2" cy="667.6" r="2.9" fill="#f41a1a"/>
<circle cx="797.5" cy="632.4" r="2.9" fill="#f41a1a"/>
<circle cx="813.1" cy="613.4" r="2.9" fill="#f41a1a"/>
<circle cx="818.7" cy="616.3" r="2.9" fill="#f41a1a"/>
<circle cx="831.6" cy="597" r="2.9" fill="#f41a1a"/>
<circle cx="836.7" cy="625.9" r="2.9" fill="#f41a1a"/>
<circle cx="849.2" cy="625.9" r="2.9" fill="#f41a1a"/>
<circle cx="863" cy="635.3" r="2.9" fill="#f41a1a"/>
<circle cx="888.9" cy="612.6" r="2.9" fill="#f41a1a"/>
<svg x="558.4" y="731.5" width="325.1" height="123.6" viewBox="558.4 731.5 325.1 123.6" overflow="hidden">
<g filter="url(#jetmap)">
<rect x="553.4" y="726.5" width="335.1" height="133.6" fill="rgb(26,26,26)"/>
<g filter="url(#sb1)">
<path d="M598.8,729.5 L601.4,729.5 L603.6,808.8 L596.6,808.8 Z" fill="rgb(43,43,43)"/>
<path d="M641.6,729.5 L644.2,729.5 L646.4,808.8 L639.4,808.8 Z" fill="rgb(43,43,43)"/>
<path d="M652.5,729.5 L655.1,729.5 L657.3,808.8 L650.3,808.8 Z" fill="rgb(43,43,43)"/>
<path d="M678.5,729.5 L681.1,729.5 L683.3,808.8 L676.3,808.8 Z" fill="rgb(43,43,43)"/>
<path d="M725.1,729.5 L727.7,729.5 L729.9,808.8 L722.9,808.8 Z" fill="rgb(43,43,43)"/>
<path d="M773.8,729.5 L776.4,729.5 L778.6,808.8 L771.6,808.8 Z" fill="rgb(43,43,43)"/>
<path d="M787.5,745 L790.1,745 L792.3,808.8 L785.3,808.8 Z" fill="rgb(43,43,43)"/>
<path d="M809.4,737.2 L812,737.2 L814.2,808.8 L807.2,808.8 Z" fill="rgb(43,43,43)"/>
<path d="M826.2,729.5 L828.8,729.5 L831,808.8 L824,808.8 Z" fill="rgb(43,43,43)"/>
<path d="M838.6,729.5 L841.2,729.5 L843.4,808.8 L836.4,808.8 Z" fill="rgb(43,43,43)"/>
<path d="M851.7,737.2 L854.3,737.2 L856.5,808.8 L849.5,808.8 Z" fill="rgb(43,43,43)"/>
<path d="M873.5,760.4 L876.1,760.4 L878.3,808.8 L871.3,808.8 Z" fill="rgb(43,43,43)"/>
</g>
<g filter="url(#sb2)">
<path d="M570.1,850.5 Q591.7,839.6 600.1,759.3 Q608.5,839.6 630.1,850.5 Z" fill="rgb(59,59,59)"/>
<path d="M618.1,850.5 Q636,839.6 642.9,790.2 Q649.9,839.6 667.7,850.5 Z" fill="rgb(59,59,59)"/>
<path d="M634.2,850.5 Q648.3,839.6 653.8,797.9 Q659.3,839.6 673.4,850.5 Z" fill="rgb(59,59,59)"/>
<path d="M652.4,850.5 Q672.1,839.6 679.8,770.9 Q687.4,839.6 707.2,850.5 Z" fill="rgb(59,59,59)"/>
<path d="M704.2,850.5 Q720.2,839.6 726.4,782.5 Q732.6,839.6 748.6,850.5 Z" fill="rgb(59,59,59)"/>
<path d="M750.3,850.5 Q768.2,839.6 775.1,782.5 Q782.1,839.6 799.9,850.5 Z" fill="rgb(59,59,59)"/>
<path d="M769.2,850.5 Q783.3,839.6 788.8,794.1 Q794.3,839.6 808.4,850.5 Z" fill="rgb(59,59,59)"/>
<path d="M789.8,850.5 Q804.8,839.6 810.7,788.7 Q816.5,839.6 831.6,850.5 Z" fill="rgb(59,59,59)"/>
<path d="M805.3,850.5 Q821.3,839.6 827.5,785.6 Q833.7,839.6 849.7,850.5 Z" fill="rgb(59,59,59)"/>
<path d="M819,850.5 Q834.1,839.6 839.9,790.2 Q845.8,839.6 860.8,850.5 Z" fill="rgb(59,59,59)"/>
<path d="M833.4,850.5 Q847.6,839.6 853,794.1 Q858.5,839.6 872.6,850.5 Z" fill="rgb(59,59,59)"/>
<path d="M857.8,850.5 Q870.1,839.6 874.8,804.1 Q879.6,839.6 891.8,850.5 Z" fill="rgb(59,59,59)"/>
</g>
<g filter="url(#sb15)">
<path d="M580.1,848.9 Q594.1,839.6 600.1,790.2 Q606.1,839.6 620.1,848.9 Z" fill="rgb(87,87,87)"/>
<path d="M626.3,848.9 Q637.9,839.6 642.9,812.5 Q647.9,839.6 659.5,848.9 Z" fill="rgb(87,87,87)"/>
<path d="M640.6,848.9 Q649.8,839.6 653.8,818 Q657.7,839.6 667,848.9 Z" fill="rgb(87,87,87)"/>
<path d="M661.5,848.9 Q674.3,839.6 679.8,798.6 Q685.3,839.6 698.1,848.9 Z" fill="rgb(87,87,87)"/>
<path d="M711.5,848.9 Q721.9,839.6 726.4,806.9 Q730.8,839.6 741.3,848.9 Z" fill="rgb(87,87,87)"/>
<path d="M758.5,848.9 Q770.2,839.6 775.1,806.9 Q780.1,839.6 791.7,848.9 Z" fill="rgb(87,87,87)"/>
<path d="M775.6,848.9 Q784.8,839.6 788.8,815.2 Q792.7,839.6 802,848.9 Z" fill="rgb(87,87,87)"/>
<path d="M796.6,848.9 Q806.5,839.6 810.7,811.3 Q814.9,839.6 824.7,848.9 Z" fill="rgb(87,87,87)"/>
<path d="M812.6,848.9 Q823,839.6 827.5,809.1 Q831.9,839.6 842.4,848.9 Z" fill="rgb(87,87,87)"/>
<path d="M825.9,848.9 Q835.7,839.6 839.9,812.5 Q844.2,839.6 854,848.9 Z" fill="rgb(87,87,87)"/>
<path d="M839.8,848.9 Q849.1,839.6 853,815.2 Q857,839.6 866.2,848.9 Z" fill="rgb(87,87,87)"/>
<path d="M863.3,848.9 Q871.4,839.6 874.8,822.5 Q878.3,839.6 886.3,848.9 Z" fill="rgb(87,87,87)"/>
</g>
<g filter="url(#sb1)">
<ellipse cx="781.6" cy="836.6" rx="3.2" ry="2.4" fill="rgb(33,33,33)"/>
<ellipse cx="781.6" cy="824.2" rx="3.2" ry="2.4" fill="rgb(33,33,33)"/>
<ellipse cx="799" cy="835" rx="3.2" ry="2.4" fill="rgb(33,33,33)"/>
<ellipse cx="799" cy="824.2" rx="3.2" ry="2.4" fill="rgb(33,33,33)"/>
<ellipse cx="818.5" cy="828.8" rx="3.2" ry="2.4" fill="rgb(33,33,33)"/>
<ellipse cx="818.5" cy="839.6" rx="3.2" ry="2.4" fill="rgb(33,33,33)"/>
<ellipse cx="833.7" cy="821.1" rx="3.2" ry="2.4" fill="rgb(33,33,33)"/>
<ellipse cx="833.7" cy="835" rx="3.2" ry="2.4" fill="rgb(33,33,33)"/>
<ellipse cx="846.7" cy="822.7" rx="3.2" ry="2.4" fill="rgb(33,33,33)"/>
<ellipse cx="846.7" cy="835.8" rx="3.2" ry="2.4" fill="rgb(33,33,33)"/>
<ellipse cx="861.8" cy="824.2" rx="3.2" ry="2.4" fill="rgb(33,33,33)"/>
<ellipse cx="864" cy="836.6" rx="3.2" ry="2.4" fill="rgb(33,33,33)"/>
<ellipse cx="661.3" cy="831.9" rx="3.2" ry="2.4" fill="rgb(33,33,33)"/>
<ellipse cx="666.8" cy="836.6" rx="3.2" ry="2.4" fill="rgb(33,33,33)"/>
<ellipse cx="737.2" cy="830.4" rx="3.2" ry="2.4" fill="rgb(33,33,33)"/>
<ellipse cx="737.2" cy="839.6" rx="3.2" ry="2.4" fill="rgb(33,33,33)"/>
<ellipse cx="693.9" cy="827.3" rx="3.2" ry="2.4" fill="rgb(33,33,33)"/>
<ellipse cx="623.4" cy="836.6" rx="3.2" ry="2.4" fill="rgb(33,33,33)"/>
<ellipse cx="580.1" cy="836.6" rx="3.2" ry="2.4" fill="rgb(33,33,33)"/>
</g>
<g filter="url(#sb15)">
<path d="M584.4,846.6 L600.1,813.4 L615.8,846.6 Z" fill="rgb(143,143,143)"/>
<path d="M589.8,845.8 L600.1,822.7 L610.4,845.8 Z" fill="rgb(194,194,194)"/>
<ellipse cx="600.7" cy="839.6" rx="5" ry="6" fill="rgb(214,214,214)"/>
<ellipse cx="648.3" cy="838.1" rx="14" ry="4.5" fill="rgb(143,143,143)"/>
<ellipse cx="648.3" cy="837.3" rx="7" ry="3" fill="rgb(204,204,204)"/>
<ellipse cx="646.2" cy="821.1" rx="5" ry="4" fill="rgb(133,133,133)"/>
<ellipse cx="681.9" cy="833.5" rx="6" ry="9" fill="rgb(143,143,143)"/>
<ellipse cx="683" cy="831.9" rx="3.5" ry="4" fill="rgb(163,163,163)"/>
<ellipse cx="727.5" cy="822.7" rx="5" ry="5" fill="rgb(107,107,107)"/>
<ellipse cx="727.5" cy="836.6" rx="5" ry="3.5" fill="rgb(102,102,102)"/>
<ellipse cx="782.7" cy="827.3" rx="14" ry="3.5" fill="rgb(87,87,87)"/>
<ellipse cx="782.7" cy="838.1" rx="14" ry="3" fill="rgb(82,82,82)"/>
<ellipse cx="842.3" cy="828.8" rx="24" ry="4" fill="rgb(102,102,102)"/>
<ellipse cx="838" cy="827.6" rx="9" ry="3" fill="rgb(168,168,168)"/>
<ellipse cx="851" cy="842.7" rx="16" ry="2.5" fill="rgb(138,138,138)"/>
<ellipse cx="827.1" cy="816.5" rx="14" ry="5" fill="rgb(76,76,76)"/>
<ellipse cx="872.7" cy="828.8" rx="10" ry="4" fill="rgb(56,56,56)"/>
</g>
<g filter="url(#sb1)">
<rect x="558.4" y="844.3" width="325.1" height="8.5" fill="rgb(87,87,87)"/>
<path d="M672.2,852.9 C721,853.1 775.1,853.1 818.5,852.9" stroke="rgb(178,178,178)" stroke-width="2.2" fill="none"/>
<path d="M623.4,851.1 L861.8,851.1" stroke="rgb(128,128,128)" stroke-width="1.5" fill="none"/>
<path d="M558.4,848.1 L883.5,848.1" stroke="rgb(128,128,128)" stroke-width="2.5" fill="none"/>
<rect x="558.4" y="853.2" width="325.1" height="1.9" fill="rgb(102,102,102)"/>
<path d="M558.4,845.8 L582.2,845.5" stroke="rgb(0,0,0)" stroke-width="3.2" fill="none"/>
</g>
</g>
<path d="M558.4,845.8 L577.9,845.8 L584.4,844.3 L594.2,844.3 L595.2,839.6 L597.4,837.3 L601.7,837.3 L602.8,843.5 L621.3,844.3 L622.3,847.4 L635.3,847.4 L637.5,842.7 L641.8,838.9 L653.8,838.9 L658.1,841.2 L675.4,841.2 L677.6,831.2 L684.1,831.2 L686.3,835 L689.5,841.2 L692.8,844.3 L696,847.4 L725.3,847.4 L726.4,835 L730.7,835 L731.8,847.4 L770.8,847.4 L771.9,828.1 L775.1,828.8 L792.5,828.8 L793.6,845.8 L812,845.8 L813.1,825.7 L823.9,825.7 L829.3,827.3 L844.5,828.8 L845.6,842.7 L861.8,843.5 L867.2,845.1 L883.5,845.1" fill="none" stroke="#2a3a14" stroke-width="1.1" opacity="0.85"/>
</svg>
<path d="M558.4,731.5 L558.4,855.1 L883.5,855.1" fill="none" stroke="#8a8a8a" stroke-width="0.9" />
<text x="558.4" y="871" font-size="12" text-anchor="middle" font-weight="bold" fill="#262626">0</text>
<text x="612.6" y="871" font-size="12" text-anchor="middle" font-weight="bold" fill="#262626">50</text>
<line x1="612.6" y1="855.1" x2="612.6" y2="852.1" stroke="#555" stroke-width="0.8" />
<text x="666.8" y="871" font-size="12" text-anchor="middle" font-weight="bold" fill="#262626">100</text>
<line x1="666.8" y1="855.1" x2="666.8" y2="852.1" stroke="#555" stroke-width="0.8" />
<text x="721" y="871" font-size="12" text-anchor="middle" font-weight="bold" fill="#262626">150</text>
<line x1="721" y1="855.1" x2="721" y2="852.1" stroke="#555" stroke-width="0.8" />
<text x="775.1" y="871" font-size="12" text-anchor="middle" font-weight="bold" fill="#262626">200</text>
<line x1="775.1" y1="855.1" x2="775.1" y2="852.1" stroke="#555" stroke-width="0.8" />
<text x="829.3" y="871" font-size="12" text-anchor="middle" font-weight="bold" fill="#262626">250</text>
<line x1="829.3" y1="855.1" x2="829.3" y2="852.1" stroke="#555" stroke-width="0.8" />
<text x="883.5" y="871" font-size="12" text-anchor="middle" font-weight="bold" fill="#262626">300</text>
<text x="554.5" y="859.4" font-size="12" text-anchor="end" font-weight="bold" fill="#262626">0</text>
<text x="554.5" y="843.9" font-size="12" text-anchor="end" font-weight="bold" fill="#262626">0.1</text>
<text x="554.5" y="828.5" font-size="12" text-anchor="end" font-weight="bold" fill="#262626">0.2</text>
<text x="554.5" y="813" font-size="12" text-anchor="end" font-weight="bold" fill="#262626">0.3</text>
<text x="554.5" y="797.6" font-size="12" text-anchor="end" font-weight="bold" fill="#262626">0.4</text>
<text x="554.5" y="782.1" font-size="12" text-anchor="end" font-weight="bold" fill="#262626">0.5</text>
<text x="554.5" y="766.7" font-size="12" text-anchor="end" font-weight="bold" fill="#262626">0.6</text>
<text x="554.5" y="751.2" font-size="12" text-anchor="end" font-weight="bold" fill="#262626">0.7</text>
<text x="554.5" y="735.8" font-size="12" text-anchor="end" font-weight="bold" fill="#262626">0.8</text>
<line x1="880.5" y1="839.6" x2="883.5" y2="839.6" stroke="#3a3a7a" stroke-width="0.8" />
<line x1="558.4" y1="839.6" x2="561.4" y2="839.6" stroke="#3a3a7a" stroke-width="0.8" />
<line x1="880.5" y1="824.2" x2="883.5" y2="824.2" stroke="#3a3a7a" stroke-width="0.8" />
<line x1="558.4" y1="824.2" x2="561.4" y2="824.2" stroke="#3a3a7a" stroke-width="0.8" />
<line x1="880.5" y1="808.8" x2="883.5" y2="808.8" stroke="#3a3a7a" stroke-width="0.8" />
<line x1="558.4" y1="808.8" x2="561.4" y2="808.8" stroke="#3a3a7a" stroke-width="0.8" />
<line x1="880.5" y1="793.3" x2="883.5" y2="793.3" stroke="#3a3a7a" stroke-width="0.8" />
<line x1="558.4" y1="793.3" x2="561.4" y2="793.3" stroke="#3a3a7a" stroke-width="0.8" />
<line x1="880.5" y1="777.9" x2="883.5" y2="777.9" stroke="#3a3a7a" stroke-width="0.8" />
<line x1="558.4" y1="777.9" x2="561.4" y2="777.9" stroke="#3a3a7a" stroke-width="0.8" />
<line x1="880.5" y1="762.4" x2="883.5" y2="762.4" stroke="#3a3a7a" stroke-width="0.8" />
<line x1="558.4" y1="762.4" x2="561.4" y2="762.4" stroke="#3a3a7a" stroke-width="0.8" />
<line x1="880.5" y1="747" x2="883.5" y2="747" stroke="#3a3a7a" stroke-width="0.8" />
<line x1="558.4" y1="747" x2="561.4" y2="747" stroke="#3a3a7a" stroke-width="0.8" />
<line x1="883.5" y1="731.5" x2="883.5" y2="855.1" stroke="#9a9ab8" stroke-width="0.6" />
<text x="720.7" y="888.4" font-size="12.6" text-anchor="middle" font-weight="bold" fill="#262626">Time (s)</text>
<text transform="translate(531.6,793.7) rotate(-90)" x="0" y="0" font-size="13.2" text-anchor="middle" font-weight="bold" fill="#262626" textLength="94" lengthAdjust="spacingAndGlyphs">Frequency (Hz)</text>
<rect x="900.7" y="731.5" width="13.5" height="123.6" fill="url(#jetg)" stroke="#bbb" stroke-width="0.5"/>
<text x="918" y="741.5" font-size="12" font-weight="bold" fill="#262626">4</text>
<text x="918" y="771" font-size="12" font-weight="bold" fill="#262626">3</text>
<text x="918" y="801" font-size="12" font-weight="bold" fill="#262626">2</text>
<text x="918" y="830.4" font-size="12" font-weight="bold" fill="#262626">1</text>
<rect x="1071.9" y="2.6" width="675.2" height="914.6" rx="20" fill="none" stroke="#000" stroke-width="1.7"/>
<g class="pc">
<text x="1163.5" y="55" font-size="55.5" font-weight="bold" font-family="'Liberation Serif', 'Times New Roman', serif">C</text>
<rect x="1624.2" y="18.1" width="13.1" height="27.6" fill="#f7e4e2" stroke="#ff2a14" stroke-width="2.1"/>
<rect x="1624.2" y="60.4" width="13.1" height="27.2" fill="#e8edfb" stroke="#1a1aff" stroke-width="2.1"/>
<text x="1645.8" y="42.6" font-size="28.5" textLength="40.5" lengthAdjust="spacingAndGlyphs">Old</text>
<text x="1645.8" y="84.8" font-size="28.5" textLength="74.4" lengthAdjust="spacingAndGlyphs">Young</text>
<line x1="1209.6" y1="230.9" x2="1209.6" y2="219.2" stroke="#5a5af5" stroke-width="1.3" />
<line x1="1199.4" y1="219.2" x2="1219.8" y2="219.2" stroke="#5a5af5" stroke-width="1.3" />
<rect x="1189.7" y="230.9" width="39.8" height="114.9" fill="#e8edfb" stroke="#2a2af2" stroke-width="2.2"/>
<line x1="1271.3" y1="279.5" x2="1271.3" y2="257.3" stroke="#f07060" stroke-width="1.3" />
<line x1="1261.3" y1="257.3" x2="1281.3" y2="257.3" stroke="#f07060" stroke-width="1.3" />
<rect x="1251.4" y="279.5" width="39.9" height="66.3" fill="#f7e4e2" stroke="#f03b24" stroke-width="2.2"/>
<line x1="1167.7" y1="345.8" x2="1313" y2="345.8" stroke="#111" stroke-width="2" />
<line x1="1209.6" y1="345.8" x2="1209.6" y2="352.3" stroke="#111" stroke-width="2" />
<line x1="1271.9" y1="345.8" x2="1271.9" y2="352.3" stroke="#111" stroke-width="2" />
<line x1="1168.7" y1="346.8" x2="1168.7" y2="160.3" stroke="#111" stroke-width="2" />
<line x1="1163.2" y1="345.8" x2="1168.7" y2="345.8" stroke="#111" stroke-width="2" />
<text x="1161.5" y="355" font-size="23" text-anchor="end" textLength="13.1" lengthAdjust="spacingAndGlyphs">0</text>
<line x1="1163.2" y1="284.2" x2="1168.7" y2="284.2" stroke="#111" stroke-width="2" />
<text x="1161.5" y="293.4" font-size="23" text-anchor="end" textLength="13.1" lengthAdjust="spacingAndGlyphs">5</text>
<line x1="1163.2" y1="222.7" x2="1168.7" y2="222.7" stroke="#111" stroke-width="2" />
<text x="1161.5" y="231.9" font-size="23" text-anchor="end" textLength="26.2" lengthAdjust="spacingAndGlyphs">10</text>
<line x1="1163.2" y1="161.2" x2="1168.7" y2="161.2" stroke="#111" stroke-width="2" />
<text x="1161.5" y="170.3" font-size="23" text-anchor="end" textLength="26.2" lengthAdjust="spacingAndGlyphs">15</text>
<circle cx="1209.6" cy="184.1" r="2.4" fill="#1e1ef6"/>
<circle cx="1209.6" cy="206" r="2.4" fill="#1e1ef6"/>
<circle cx="1209.6" cy="223" r="2.4" fill="#1e1ef6"/>
<circle cx="1209.6" cy="227.7" r="2.4" fill="#1e1ef6"/>
<circle cx="1209.6" cy="240.4" r="2.4" fill="#1e1ef6"/>
<circle cx="1209.6" cy="260.1" r="2.4" fill="#1e1ef6"/>
<circle cx="1209.6" cy="270.3" r="2.4" fill="#1e1ef6"/>
<circle cx="1271.9" cy="174.1" r="2.4" fill="#f5311f"/>
<circle cx="1271.9" cy="189.1" r="2.4" fill="#f5311f"/>
<circle cx="1271.9" cy="235.4" r="2.4" fill="#f5311f"/>
<circle cx="1268.4" cy="299" r="2.4" fill="#f5311f"/>
<circle cx="1274.9" cy="297" r="2.4" fill="#f5311f"/>
<circle cx="1268.4" cy="318.9" r="2.4" fill="#f5311f"/>
<circle cx="1274.9" cy="318.9" r="2.4" fill="#f5311f"/>
<circle cx="1271.9" cy="331.3" r="2.4" fill="#f5311f"/>
<circle cx="1271.9" cy="345.8" r="2.4" fill="#f5311f"/>
<line x1="1204.1" y1="115.2" x2="1270.4" y2="115.2" stroke="#000" stroke-width="2" />
<text x="1237.4" y="104.7" font-size="33" text-anchor="middle" textLength="31.6" lengthAdjust="spacingAndGlyphs">ns</text>
<text transform="translate(1124.9,375.8) rotate(-90)" x="0" y="0" font-size="26.4" textLength="338.5" lengthAdjust="spacingAndGlyphs">Peak&amp;Valley Frequency(min<tspan font-size="17" dy="-10">-1</tspan><tspan dy="10">)</tspan></text>
<text transform="translate(1107,464.5) rotate(-40)" x="0" y="0" font-size="25.5">Peak&amp;Valley</text>
<text transform="translate(1133.1,494.7) rotate(-40)" x="0" y="0" font-size="25.5">Peak&amp;Valley Old</text>
<line x1="1492.6" y1="208.3" x2="1492.6" y2="196.8" stroke="#5a5af5" stroke-width="1.3" />
<line x1="1486.9" y1="196.8" x2="1498.3" y2="196.8" stroke="#5a5af5" stroke-width="1.3" />
<rect x="1482" y="208.3" width="21.2" height="118.2" fill="#e8edfb" stroke="#2a2af2" stroke-width="2.2"/>
<line x1="1526.8" y1="224.6" x2="1526.8" y2="210.7" stroke="#f07060" stroke-width="1.3" />
<line x1="1521" y1="210.7" x2="1532.5" y2="210.7" stroke="#f07060" stroke-width="1.3" />
<rect x="1516" y="224.6" width="21.5" height="101.9" fill="#f7e4e2" stroke="#f03b24" stroke-width="2.2"/>
<line x1="1583.7" y1="300.9" x2="1583.7" y2="292.2" stroke="#5a5af5" stroke-width="1.3" />
<line x1="1578" y1="292.2" x2="1589.4" y2="292.2" stroke="#5a5af5" stroke-width="1.3" />
<rect x="1572.9" y="300.9" width="21.5" height="25.6" fill="#e8edfb" stroke="#2a2af2" stroke-width="2.2"/>
<line x1="1617.5" y1="267.2" x2="1617.5" y2="256.5" stroke="#f07060" stroke-width="1.3" />
<line x1="1611.8" y1="256.5" x2="1623.2" y2="256.5" stroke="#f07060" stroke-width="1.3" />
<rect x="1606.9" y="267.2" width="21.1" height="59.3" fill="#f7e4e2" stroke="#f03b24" stroke-width="2.2"/>
<line x1="1469.3" y1="326.5" x2="1639.1" y2="326.5" stroke="#111" stroke-width="2" />
<line x1="1509.8" y1="326.5" x2="1509.8" y2="333" stroke="#111" stroke-width="2" />
<line x1="1600.3" y1="326.5" x2="1600.3" y2="333" stroke="#111" stroke-width="2" />
<line x1="1470.3" y1="327.5" x2="1470.3" y2="125.6" stroke="#111" stroke-width="2" />
<line x1="1464.8" y1="326.5" x2="1470.3" y2="326.5" stroke="#111" stroke-width="2" />
<text x="1460.5" y="336.3" font-size="24.5" text-anchor="end" textLength="13.8" lengthAdjust="spacingAndGlyphs">0</text>
<line x1="1464.8" y1="259.8" x2="1470.3" y2="259.8" stroke="#111" stroke-width="2" />
<text x="1460.5" y="269.6" font-size="24.5" text-anchor="end" textLength="13.8" lengthAdjust="spacingAndGlyphs">5</text>
<line x1="1464.8" y1="193.1" x2="1470.3" y2="193.1" stroke="#111" stroke-width="2" />
<text x="1460.5" y="202.9" font-size="24.5" text-anchor="end" textLength="27.6" lengthAdjust="spacingAndGlyphs">10</text>
<line x1="1464.8" y1="126.4" x2="1470.3" y2="126.4" stroke="#111" stroke-width="2" />
<text x="1460.5" y="136.2" font-size="24.5" text-anchor="end" textLength="27.6" lengthAdjust="spacingAndGlyphs">15</text>
<circle cx="1492.5" cy="175" r="2.4" fill="#1e1ef6"/>
<circle cx="1492.5" cy="185.4" r="2.4" fill="#1e1ef6"/>
<circle cx="1492.5" cy="194.4" r="2.4" fill="#1e1ef6"/>
<circle cx="1492.5" cy="210" r="2.4" fill="#1e1ef6"/>
<circle cx="1492.5" cy="219.4" r="2.4" fill="#1e1ef6"/>
<circle cx="1492.5" cy="231.5" r="2.4" fill="#1e1ef6"/>
<circle cx="1492.5" cy="253" r="2.4" fill="#1e1ef6"/>
<circle cx="1526.8" cy="155.9" r="2.4" fill="#f5311f"/>
<circle cx="1526.8" cy="190.9" r="2.4" fill="#f5311f"/>
<circle cx="1526.8" cy="203.1" r="2.4" fill="#f5311f"/>
<circle cx="1526.8" cy="211.7" r="2.4" fill="#f5311f"/>
<circle cx="1526.8" cy="219" r="2.4" fill="#f5311f"/>
<circle cx="1518.8" cy="255.1" r="2.4" fill="#f5311f"/>
<circle cx="1526.8" cy="255.1" r="2.4" fill="#f5311f"/>
<circle cx="1534" cy="255.1" r="2.4" fill="#f5311f"/>
<circle cx="1526.8" cy="266.9" r="2.4" fill="#f5311f"/>
<circle cx="1583.6" cy="261" r="2.4" fill="#1e1ef6"/>
<circle cx="1583.6" cy="286" r="2.4" fill="#1e1ef6"/>
<circle cx="1583.6" cy="296.4" r="2.4" fill="#1e1ef6"/>
<circle cx="1578.4" cy="305" r="2.4" fill="#1e1ef6"/>
<circle cx="1588.8" cy="312" r="2.4" fill="#1e1ef6"/>
<circle cx="1583.6" cy="316.5" r="2.4" fill="#1e1ef6"/>
<circle cx="1583.6" cy="321.7" r="2.4" fill="#1e1ef6"/>
<circle cx="1617.3" cy="214.2" r="2.4" fill="#f5311f"/>
<circle cx="1617.3" cy="230.5" r="2.4" fill="#f5311f"/>
<circle cx="1610.3" cy="263.8" r="2.4" fill="#f5311f"/>
<circle cx="1617.3" cy="263.8" r="2.4" fill="#f5311f"/>
<circle cx="1624.2" cy="263.8" r="2.4" fill="#f5311f"/>
<circle cx="1617.3" cy="268.6" r="2.4" fill="#f5311f"/>
<circle cx="1617.3" cy="290.5" r="2.4" fill="#f5311f"/>
<circle cx="1610.3" cy="303.6" r="2.4" fill="#f5311f"/>
<circle cx="1624.2" cy="303.6" r="2.4" fill="#f5311f"/>
<line x1="1479.6" y1="144.8" x2="1544.5" y2="144.8" stroke="#000" stroke-width="2" />
<text x="1511.9" y="135.5" font-size="33" text-anchor="middle" textLength="27.7" lengthAdjust="spacingAndGlyphs">ns</text>
<line x1="1592.3" y1="139.6" x2="1657.5" y2="139.6" stroke="#000" stroke-width="2" />
<line x1="1614.5" y1="112" x2="1614.5" y2="131" stroke="#000" stroke-width="5.2" stroke-linecap="butt"/>
<line x1="1622.7" y1="116.8" x2="1606.3" y2="126.2" stroke="#000" stroke-width="5.2" stroke-linecap="butt"/>
<line x1="1622.7" y1="126.2" x2="1606.3" y2="116.8" stroke="#000" stroke-width="5.2" stroke-linecap="butt"/>
<line x1="1635" y1="112" x2="1635" y2="131" stroke="#000" stroke-width="5.2" stroke-linecap="butt"/>
<line x1="1643.2" y1="116.8" x2="1626.8" y2="126.2" stroke="#000" stroke-width="5.2" stroke-linecap="butt"/>
<line x1="1643.2" y1="126.2" x2="1626.8" y2="116.8" stroke="#000" stroke-width="5.2" stroke-linecap="butt"/>
<text transform="translate(1386.3,264.1) rotate(-90)" x="0" y="0" font-size="27.5" textLength="97.2" lengthAdjust="spacingAndGlyphs">Wavelet</text>
<text transform="translate(1422.5,408.3) rotate(-90)" x="0" y="0" font-size="27.4" textLength="385.9" lengthAdjust="spacingAndGlyphs">Instantaneous Frequency(min<tspan font-size="17" dy="-10">-1</tspan><tspan dy="10">)</tspan></text>
<text transform="translate(1291.4,543.8) rotate(-40)" x="0" y="0" font-size="27.5">Mean Signal Frequency</text>
<text transform="translate(1402,522) rotate(-40)" x="0" y="0" font-size="28">Signal Frequency SD</text>
<line x1="1218.3" y1="712.2" x2="1218.3" y2="702.8" stroke="#5a5af5" stroke-width="1.3" />
<line x1="1211.3" y1="702.8" x2="1225.3" y2="702.8" stroke="#5a5af5" stroke-width="1.3" />
<rect x="1204.9" y="712.2" width="26.9" height="93.1" fill="#e8edfb" stroke="#2a2af2" stroke-width="2.2"/>
<line x1="1260.5" y1="723.6" x2="1260.5" y2="711.2" stroke="#f07060" stroke-width="1.3" />
<line x1="1253.5" y1="711.2" x2="1267.5" y2="711.2" stroke="#f07060" stroke-width="1.3" />
<rect x="1246.9" y="723.6" width="27.2" height="81.7" fill="#f7e4e2" stroke="#f03b24" stroke-width="2.2"/>
<line x1="1189.1" y1="805.3" x2="1286.6" y2="805.3" stroke="#111" stroke-width="2" />
<line x1="1218.3" y1="805.3" x2="1218.3" y2="811.8" stroke="#111" stroke-width="2" />
<line x1="1260.3" y1="805.3" x2="1260.3" y2="811.8" stroke="#111" stroke-width="2" />
<line x1="1190.1" y1="806.3" x2="1190.1" y2="622.4" stroke="#111" stroke-width="2" />
<line x1="1184.6" y1="805.3" x2="1190.1" y2="805.3" stroke="#111" stroke-width="2" />
<text x="1182" y="814.7" font-size="23.5" text-anchor="end" textLength="12.6" lengthAdjust="spacingAndGlyphs">0</text>
<line x1="1184.6" y1="768.9" x2="1190.1" y2="768.9" stroke="#111" stroke-width="2" />
<text x="1182" y="778.3" font-size="23.5" text-anchor="end" textLength="25.2" lengthAdjust="spacingAndGlyphs">20</text>
<line x1="1184.6" y1="732.4" x2="1190.1" y2="732.4" stroke="#111" stroke-width="2" />
<text x="1182" y="741.8" font-size="23.5" text-anchor="end" textLength="25.2" lengthAdjust="spacingAndGlyphs">40</text>
<line x1="1184.6" y1="696" x2="1190.1" y2="696" stroke="#111" stroke-width="2" />
<text x="1182" y="705.4" font-size="23.5" text-anchor="end" textLength="25.2" lengthAdjust="spacingAndGlyphs">60</text>
<line x1="1184.6" y1="659.6" x2="1190.1" y2="659.6" stroke="#111" stroke-width="2" />
<text x="1182" y="669" font-size="23.5" text-anchor="end" textLength="25.2" lengthAdjust="spacingAndGlyphs">80</text>
<line x1="1184.6" y1="623.1" x2="1190.1" y2="623.1" stroke="#111" stroke-width="2" />
<text x="1182" y="632.5" font-size="23.5" text-anchor="end" textLength="37.8" lengthAdjust="spacingAndGlyphs">100</text>
<circle cx="1218.3" cy="674.5" r="2.4" fill="#1e1ef6"/>
<circle cx="1218.3" cy="681.9" r="2.4" fill="#1e1ef6"/>
<circle cx="1218.3" cy="707.1" r="2.4" fill="#1e1ef6"/>
<circle cx="1221.7" cy="729.7" r="2.4" fill="#1e1ef6"/>
<circle cx="1214.3" cy="733.7" r="2.4" fill="#1e1ef6"/>
<circle cx="1218.3" cy="731" r="2.4" fill="#1e1ef6"/>
<circle cx="1260.3" cy="640.6" r="2.4" fill="#f5311f"/>
<circle cx="1260.3" cy="706.1" r="2.4" fill="#f5311f"/>
<circle cx="1252.9" cy="717.9" r="2.4" fill="#f5311f"/>
<circle cx="1264.7" cy="717.9" r="2.4" fill="#f5311f"/>
<circle cx="1260.3" cy="734" r="2.4" fill="#f5311f"/>
<circle cx="1260.3" cy="742.4" r="2.4" fill="#f5311f"/>
<circle cx="1252.9" cy="742.4" r="2.4" fill="#f5311f"/>
<circle cx="1260.3" cy="751.5" r="2.4" fill="#f5311f"/>
<circle cx="1260.3" cy="755.5" r="2.4" fill="#f5311f"/>
<line x1="1210.9" y1="613.7" x2="1276.5" y2="613.7" stroke="#000" stroke-width="2" />
<text x="1242.8" y="604.3" font-size="33" text-anchor="middle" textLength="30.3" lengthAdjust="spacingAndGlyphs">ns</text>
<text transform="translate(1133,704.4) rotate(-90)" x="0" y="0" font-size="26" text-anchor="middle" textLength="248.8" lengthAdjust="spacingAndGlyphs">Average Diameter(&#956;m)</text>
<text transform="translate(1169.6,877.4) rotate(-40)" x="0" y="0" font-size="25.3" textLength="75" lengthAdjust="spacingAndGlyphs">Young</text>
<text transform="translate(1235.5,856.5) rotate(-40)" x="0" y="0" font-size="25.3">Old</text>
<line x1="1500.1" y1="690.3" x2="1500.1" y2="675.9" stroke="#5a5af5" stroke-width="1.3" />
<line x1="1494.1" y1="675.9" x2="1506.1" y2="675.9" stroke="#5a5af5" stroke-width="1.3" />
<rect x="1489.9" y="690.3" width="20.3" height="108.2" fill="#e8edfb" stroke="#2a2af2" stroke-width="2.2"/>
<line x1="1532.3" y1="759.3" x2="1532.3" y2="749" stroke="#f07060" stroke-width="1.3" />
<line x1="1526.3" y1="749" x2="1538.3" y2="749" stroke="#f07060" stroke-width="1.3" />
<rect x="1521.9" y="759.3" width="20.8" height="39.2" fill="#f7e4e2" stroke="#f03b24" stroke-width="2.2"/>
<line x1="1585.7" y1="714.4" x2="1585.7" y2="702.2" stroke="#5a5af5" stroke-width="1.3" />
<line x1="1579.7" y1="702.2" x2="1591.7" y2="702.2" stroke="#5a5af5" stroke-width="1.3" />
<rect x="1575.5" y="714.4" width="20.3" height="84.1" fill="#e8edfb" stroke="#2a2af2" stroke-width="2.2"/>
<line x1="1618" y1="770.1" x2="1618" y2="763.9" stroke="#f07060" stroke-width="1.3" />
<line x1="1612" y1="763.9" x2="1624" y2="763.9" stroke="#f07060" stroke-width="1.3" />
<rect x="1607.7" y="770.1" width="20.6" height="28.4" fill="#f7e4e2" stroke="#f03b24" stroke-width="2.2"/>
<line x1="1477.5" y1="798.5" x2="1639.3" y2="798.5" stroke="#111" stroke-width="2" />
<line x1="1515.7" y1="798.5" x2="1515.7" y2="805" stroke="#111" stroke-width="2" />
<line x1="1601.5" y1="798.5" x2="1601.5" y2="805" stroke="#111" stroke-width="2" />
<line x1="1478.5" y1="799.5" x2="1478.5" y2="609.3" stroke="#111" stroke-width="2" />
<line x1="1473" y1="798.5" x2="1478.5" y2="798.5" stroke="#111" stroke-width="2" />
<text x="1471" y="808.3" font-size="24.5" text-anchor="end" textLength="14.3" lengthAdjust="spacingAndGlyphs">0</text>
<line x1="1473" y1="760.8" x2="1478.5" y2="760.8" stroke="#111" stroke-width="2" />
<text x="1471" y="770.6" font-size="24.5" text-anchor="end" textLength="14.3" lengthAdjust="spacingAndGlyphs">5</text>
<line x1="1473" y1="723.1" x2="1478.5" y2="723.1" stroke="#111" stroke-width="2" />
<text x="1471" y="732.9" font-size="24.5" text-anchor="end" textLength="28.6" lengthAdjust="spacingAndGlyphs">10</text>
<line x1="1473" y1="685.5" x2="1478.5" y2="685.5" stroke="#111" stroke-width="2" />
<text x="1471" y="695.3" font-size="24.5" text-anchor="end" textLength="28.6" lengthAdjust="spacingAndGlyphs">15</text>
<line x1="1473" y1="647.8" x2="1478.5" y2="647.8" stroke="#111" stroke-width="2" />
<text x="1471" y="657.6" font-size="24.5" text-anchor="end" textLength="28.6" lengthAdjust="spacingAndGlyphs">20</text>
<line x1="1473" y1="610.1" x2="1478.5" y2="610.1" stroke="#111" stroke-width="2" />
<text x="1471" y="619.9" font-size="24.5" text-anchor="end" textLength="28.6" lengthAdjust="spacingAndGlyphs">25</text>
<circle cx="1500.2" cy="632" r="2.4" fill="#1e1ef6"/>
<circle cx="1500.2" cy="647.5" r="2.4" fill="#1e1ef6"/>
<circle cx="1500.2" cy="690.8" r="2.4" fill="#1e1ef6"/>
<circle cx="1500.2" cy="700.3" r="2.4" fill="#1e1ef6"/>
<circle cx="1500.2" cy="709.8" r="2.4" fill="#1e1ef6"/>
<circle cx="1500.2" cy="719.8" r="2.4" fill="#1e1ef6"/>
<circle cx="1500.2" cy="729.3" r="2.4" fill="#1e1ef6"/>
<circle cx="1532.1" cy="709" r="2.4" fill="#f5311f"/>
<circle cx="1532.1" cy="723.3" r="2.4" fill="#f5311f"/>
<circle cx="1532.1" cy="742.8" r="2.4" fill="#f5311f"/>
<circle cx="1527.3" cy="765.3" r="2.4" fill="#f5311f"/>
<circle cx="1536.7" cy="765.3" r="2.4" fill="#f5311f"/>
<circle cx="1532.1" cy="769.9" r="2.4" fill="#f5311f"/>
<circle cx="1527.3" cy="774.8" r="2.4" fill="#f5311f"/>
<circle cx="1536.7" cy="774.8" r="2.4" fill="#f5311f"/>
<circle cx="1532.1" cy="778.8" r="2.4" fill="#f5311f"/>
<circle cx="1532.1" cy="797.8" r="2.4" fill="#f5311f"/>
<circle cx="1585.8" cy="652.1" r="2.4" fill="#1e1ef6"/>
<circle cx="1585.8" cy="690.8" r="2.4" fill="#1e1ef6"/>
<circle cx="1582" cy="720" r="2.4" fill="#1e1ef6"/>
<circle cx="1589.5" cy="720" r="2.4" fill="#1e1ef6"/>
<circle cx="1585.8" cy="723.3" r="2.4" fill="#1e1ef6"/>
<circle cx="1585.8" cy="732.2" r="2.4" fill="#1e1ef6"/>
<circle cx="1585.8" cy="735.5" r="2.4" fill="#1e1ef6"/>
<circle cx="1585.8" cy="745" r="2.4" fill="#1e1ef6"/>
<circle cx="1618" cy="746.3" r="2.4" fill="#f5311f"/>
<circle cx="1618" cy="751" r="2.4" fill="#f5311f"/>
<circle cx="1613.9" cy="755.8" r="2.4" fill="#f5311f"/>
<circle cx="1622" cy="755.8" r="2.4" fill="#f5311f"/>
<circle cx="1618" cy="758" r="2.4" fill="#f5311f"/>
<circle cx="1618" cy="774.2" r="2.4" fill="#f5311f"/>
<circle cx="1618" cy="782.3" r="2.4" fill="#f5311f"/>
<circle cx="1618" cy="789.6" r="2.4" fill="#f5311f"/>
<circle cx="1618" cy="797" r="2.4" fill="#f5311f"/>
<line x1="1492" y1="587.9" x2="1562.5" y2="587.9" stroke="#000" stroke-width="2" />
<line x1="1526.8" y1="559.8" x2="1526.8" y2="580.2" stroke="#000" stroke-width="5.6" stroke-linecap="butt"/>
<line x1="1535.6" y1="564.9" x2="1518" y2="575.1" stroke="#000" stroke-width="5.6" stroke-linecap="butt"/>
<line x1="1535.6" y1="575.1" x2="1518" y2="564.9" stroke="#000" stroke-width="5.6" stroke-linecap="butt"/>
<line x1="1582.8" y1="643.4" x2="1653.2" y2="643.4" stroke="#000" stroke-width="2" />
<line x1="1617.3" y1="615.3" x2="1617.3" y2="635.9" stroke="#000" stroke-width="5.7" stroke-linecap="butt"/>
<line x1="1626.2" y1="620.5" x2="1608.4" y2="630.8" stroke="#000" stroke-width="5.7" stroke-linecap="butt"/>
<line x1="1626.2" y1="630.8" x2="1608.4" y2="620.5" stroke="#000" stroke-width="5.7" stroke-linecap="butt"/>
<text transform="translate(1433,694.2) rotate(-90)" x="0" y="0" font-size="26" text-anchor="middle" textLength="169.2" lengthAdjust="spacingAndGlyphs">Amplitude(&#956;m)</text>
<text transform="translate(1410.6,920.3) rotate(-40)" x="0" y="0" font-size="25.5" textLength="147.5" lengthAdjust="spacingAndGlyphs">Peak&amp;Valley</text>
<text transform="translate(1536.8,886.4) rotate(-40)" x="0" y="0" font-size="25.3" textLength="93" lengthAdjust="spacingAndGlyphs">Wavelet</text>
</g>
</svg>
</body></html>
